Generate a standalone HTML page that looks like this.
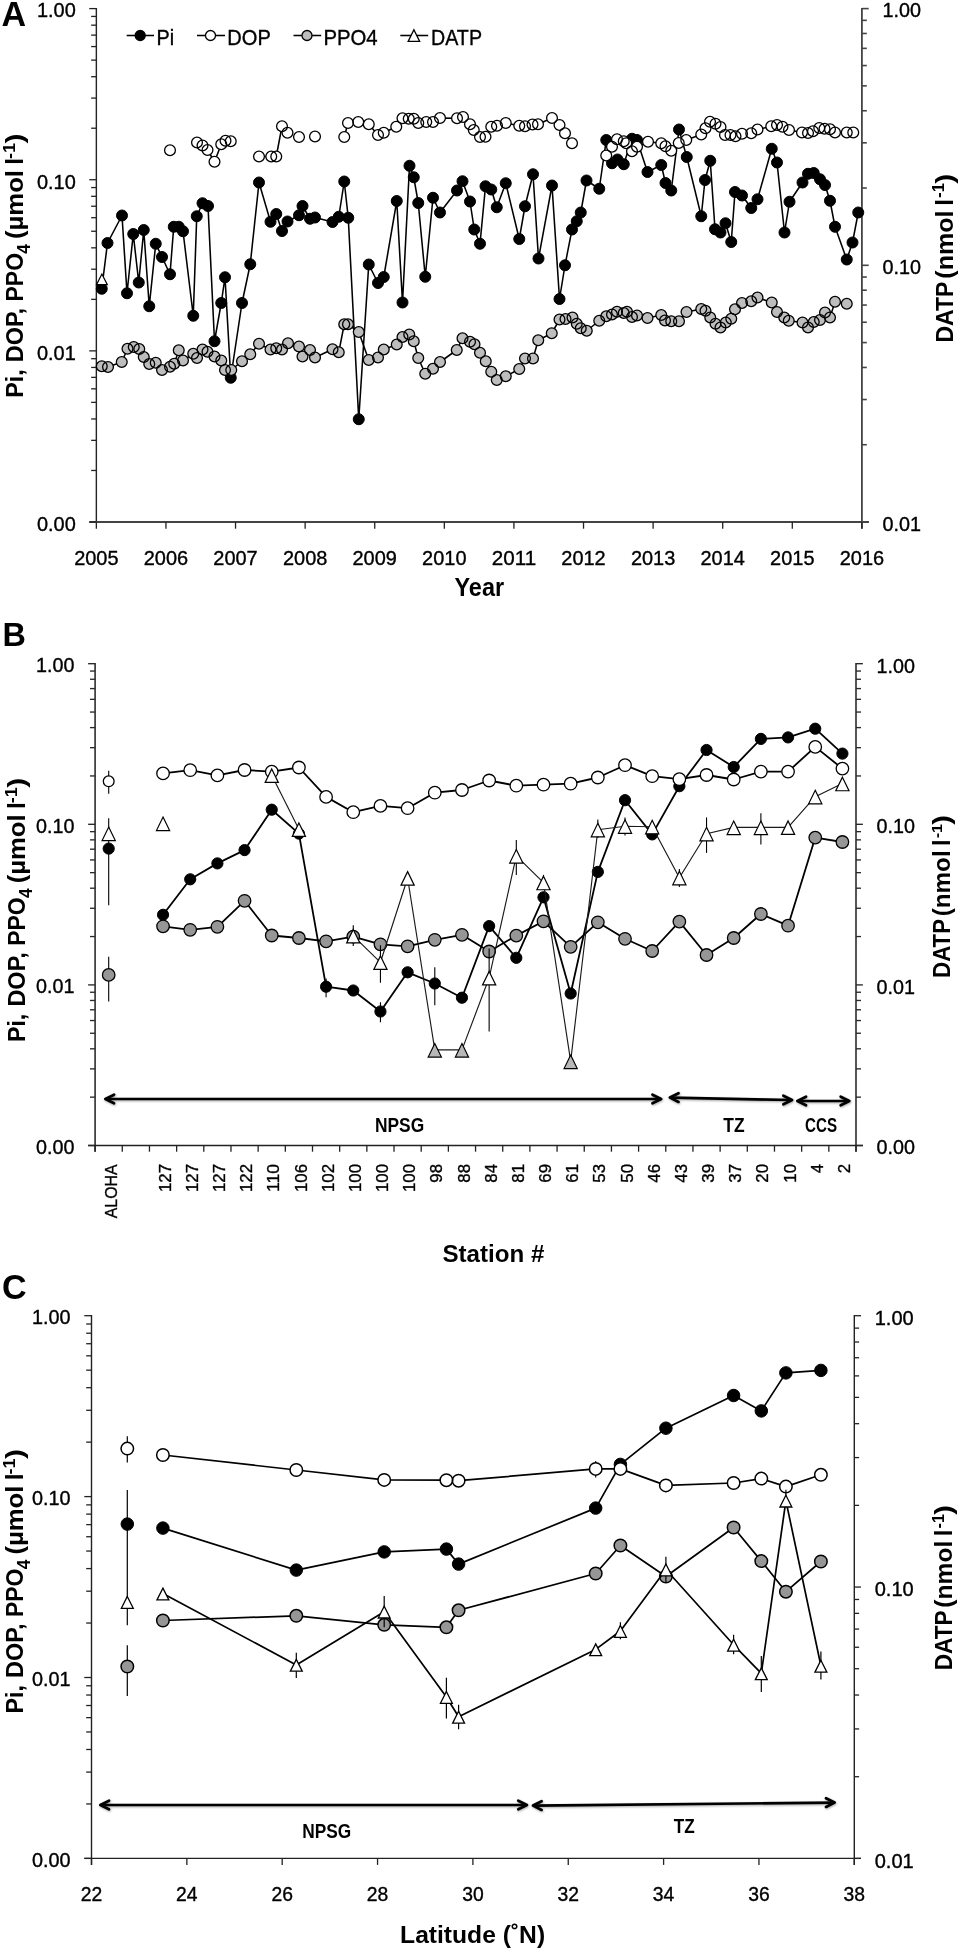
<!DOCTYPE html>
<html><head><meta charset="utf-8"><title>Figure</title>
<style>
html,body{margin:0;padding:0;background:#fff;}
svg{display:block;will-change:transform;font-family:"Liberation Sans",sans-serif;fill:#000;}
</style></head><body>
<svg width="961" height="1951" viewBox="0 0 961 1951">
<defs><filter id="sh" x="-5%" y="-200%" width="110%" height="500%"><feDropShadow dx="0.6" dy="1" stdDeviation="0.9" flood-color="#000" flood-opacity="0.35"/></filter></defs>
<rect width="961" height="1951" fill="#fff"/>
<line x1="96.35" y1="8.00" x2="96.35" y2="522.50" stroke="#222" stroke-width="1.4" />
<line x1="861.90" y1="8.00" x2="861.90" y2="528.70" stroke="#444" stroke-width="1.8" />
<line x1="89.25" y1="522.00" x2="868.90" y2="522.00" stroke="#444" stroke-width="1.8" />
<line x1="96.35" y1="179.73" x2="89.25" y2="179.73" stroke="#222" stroke-width="1.3" />
<line x1="96.35" y1="128.22" x2="91.15" y2="128.22" stroke="#222" stroke-width="1.3" />
<line x1="96.35" y1="98.08" x2="91.15" y2="98.08" stroke="#222" stroke-width="1.3" />
<line x1="96.35" y1="76.70" x2="91.15" y2="76.70" stroke="#222" stroke-width="1.3" />
<line x1="96.35" y1="60.12" x2="91.15" y2="60.12" stroke="#222" stroke-width="1.3" />
<line x1="96.35" y1="46.57" x2="91.15" y2="46.57" stroke="#222" stroke-width="1.3" />
<line x1="96.35" y1="35.11" x2="91.15" y2="35.11" stroke="#222" stroke-width="1.3" />
<line x1="96.35" y1="25.18" x2="91.15" y2="25.18" stroke="#222" stroke-width="1.3" />
<line x1="96.35" y1="16.43" x2="91.15" y2="16.43" stroke="#222" stroke-width="1.3" />
<line x1="96.35" y1="350.87" x2="89.25" y2="350.87" stroke="#222" stroke-width="1.3" />
<line x1="96.35" y1="299.35" x2="91.15" y2="299.35" stroke="#222" stroke-width="1.3" />
<line x1="96.35" y1="269.22" x2="91.15" y2="269.22" stroke="#222" stroke-width="1.3" />
<line x1="96.35" y1="247.83" x2="91.15" y2="247.83" stroke="#222" stroke-width="1.3" />
<line x1="96.35" y1="231.25" x2="91.15" y2="231.25" stroke="#222" stroke-width="1.3" />
<line x1="96.35" y1="217.70" x2="91.15" y2="217.70" stroke="#222" stroke-width="1.3" />
<line x1="96.35" y1="206.24" x2="91.15" y2="206.24" stroke="#222" stroke-width="1.3" />
<line x1="96.35" y1="196.32" x2="91.15" y2="196.32" stroke="#222" stroke-width="1.3" />
<line x1="96.35" y1="187.56" x2="91.15" y2="187.56" stroke="#222" stroke-width="1.3" />
<line x1="96.35" y1="522.00" x2="89.25" y2="522.00" stroke="#222" stroke-width="1.3" />
<line x1="96.35" y1="470.48" x2="91.15" y2="470.48" stroke="#222" stroke-width="1.3" />
<line x1="96.35" y1="440.35" x2="91.15" y2="440.35" stroke="#222" stroke-width="1.3" />
<line x1="96.35" y1="418.97" x2="91.15" y2="418.97" stroke="#222" stroke-width="1.3" />
<line x1="96.35" y1="402.38" x2="91.15" y2="402.38" stroke="#222" stroke-width="1.3" />
<line x1="96.35" y1="388.83" x2="91.15" y2="388.83" stroke="#222" stroke-width="1.3" />
<line x1="96.35" y1="377.38" x2="91.15" y2="377.38" stroke="#222" stroke-width="1.3" />
<line x1="96.35" y1="367.45" x2="91.15" y2="367.45" stroke="#222" stroke-width="1.3" />
<line x1="96.35" y1="358.70" x2="91.15" y2="358.70" stroke="#222" stroke-width="1.3" />
<line x1="96.35" y1="8.60" x2="89.25" y2="8.60" stroke="#222" stroke-width="1.3" />
<line x1="861.90" y1="265.30" x2="868.70" y2="265.30" stroke="#444" stroke-width="1.6" />
<line x1="861.90" y1="188.03" x2="866.80" y2="188.03" stroke="#444" stroke-width="1.6" />
<line x1="861.90" y1="142.82" x2="866.80" y2="142.82" stroke="#444" stroke-width="1.6" />
<line x1="861.90" y1="110.75" x2="866.80" y2="110.75" stroke="#444" stroke-width="1.6" />
<line x1="861.90" y1="85.87" x2="866.80" y2="85.87" stroke="#444" stroke-width="1.6" />
<line x1="861.90" y1="65.55" x2="866.80" y2="65.55" stroke="#444" stroke-width="1.6" />
<line x1="861.90" y1="48.36" x2="866.80" y2="48.36" stroke="#444" stroke-width="1.6" />
<line x1="861.90" y1="33.48" x2="866.80" y2="33.48" stroke="#444" stroke-width="1.6" />
<line x1="861.90" y1="20.35" x2="866.80" y2="20.35" stroke="#444" stroke-width="1.6" />
<line x1="861.90" y1="522.00" x2="868.70" y2="522.00" stroke="#444" stroke-width="1.6" />
<line x1="861.90" y1="444.73" x2="866.80" y2="444.73" stroke="#444" stroke-width="1.6" />
<line x1="861.90" y1="399.52" x2="866.80" y2="399.52" stroke="#444" stroke-width="1.6" />
<line x1="861.90" y1="367.45" x2="866.80" y2="367.45" stroke="#444" stroke-width="1.6" />
<line x1="861.90" y1="342.57" x2="866.80" y2="342.57" stroke="#444" stroke-width="1.6" />
<line x1="861.90" y1="322.25" x2="866.80" y2="322.25" stroke="#444" stroke-width="1.6" />
<line x1="861.90" y1="305.06" x2="866.80" y2="305.06" stroke="#444" stroke-width="1.6" />
<line x1="861.90" y1="290.18" x2="866.80" y2="290.18" stroke="#444" stroke-width="1.6" />
<line x1="861.90" y1="277.05" x2="866.80" y2="277.05" stroke="#444" stroke-width="1.6" />
<line x1="861.90" y1="8.60" x2="868.70" y2="8.60" stroke="#444" stroke-width="1.6" />
<line x1="96.35" y1="522.00" x2="96.35" y2="528.70" stroke="#222" stroke-width="1.3" />
<text x="96.35" y="565.30" font-size="19.6" stroke="#000" stroke-width="0.35" textLength="44.4" lengthAdjust="spacingAndGlyphs" text-anchor="middle" >2005</text>
<line x1="165.95" y1="522.00" x2="165.95" y2="528.70" stroke="#222" stroke-width="1.3" />
<text x="165.95" y="565.30" font-size="19.6" stroke="#000" stroke-width="0.35" textLength="44.4" lengthAdjust="spacingAndGlyphs" text-anchor="middle" >2006</text>
<line x1="235.54" y1="522.00" x2="235.54" y2="528.70" stroke="#222" stroke-width="1.3" />
<text x="235.54" y="565.30" font-size="19.6" stroke="#000" stroke-width="0.35" textLength="44.4" lengthAdjust="spacingAndGlyphs" text-anchor="middle" >2007</text>
<line x1="305.14" y1="522.00" x2="305.14" y2="528.70" stroke="#222" stroke-width="1.3" />
<text x="305.14" y="565.30" font-size="19.6" stroke="#000" stroke-width="0.35" textLength="44.4" lengthAdjust="spacingAndGlyphs" text-anchor="middle" >2008</text>
<line x1="374.73" y1="522.00" x2="374.73" y2="528.70" stroke="#222" stroke-width="1.3" />
<text x="374.73" y="565.30" font-size="19.6" stroke="#000" stroke-width="0.35" textLength="44.4" lengthAdjust="spacingAndGlyphs" text-anchor="middle" >2009</text>
<line x1="444.33" y1="522.00" x2="444.33" y2="528.70" stroke="#222" stroke-width="1.3" />
<text x="444.33" y="565.30" font-size="19.6" stroke="#000" stroke-width="0.35" textLength="44.4" lengthAdjust="spacingAndGlyphs" text-anchor="middle" >2010</text>
<line x1="513.92" y1="522.00" x2="513.92" y2="528.70" stroke="#222" stroke-width="1.3" />
<text x="513.92" y="565.30" font-size="19.6" stroke="#000" stroke-width="0.35" textLength="44.4" lengthAdjust="spacingAndGlyphs" text-anchor="middle" >2011</text>
<line x1="583.52" y1="522.00" x2="583.52" y2="528.70" stroke="#222" stroke-width="1.3" />
<text x="583.52" y="565.30" font-size="19.6" stroke="#000" stroke-width="0.35" textLength="44.4" lengthAdjust="spacingAndGlyphs" text-anchor="middle" >2012</text>
<line x1="653.11" y1="522.00" x2="653.11" y2="528.70" stroke="#222" stroke-width="1.3" />
<text x="653.11" y="565.30" font-size="19.6" stroke="#000" stroke-width="0.35" textLength="44.4" lengthAdjust="spacingAndGlyphs" text-anchor="middle" >2013</text>
<line x1="722.71" y1="522.00" x2="722.71" y2="528.70" stroke="#222" stroke-width="1.3" />
<text x="722.71" y="565.30" font-size="19.6" stroke="#000" stroke-width="0.35" textLength="44.4" lengthAdjust="spacingAndGlyphs" text-anchor="middle" >2014</text>
<line x1="792.30" y1="522.00" x2="792.30" y2="528.70" stroke="#222" stroke-width="1.3" />
<text x="792.30" y="565.30" font-size="19.6" stroke="#000" stroke-width="0.35" textLength="44.4" lengthAdjust="spacingAndGlyphs" text-anchor="middle" >2015</text>
<line x1="861.90" y1="522.00" x2="861.90" y2="528.70" stroke="#222" stroke-width="1.3" />
<text x="861.90" y="565.30" font-size="19.6" stroke="#000" stroke-width="0.35" textLength="44.4" lengthAdjust="spacingAndGlyphs" text-anchor="middle" >2016</text>
<text x="1.50" y="25.80" font-size="34.2" font-weight="bold" textLength="24.6" lengthAdjust="spacingAndGlyphs" text-anchor="start" >A</text>
<text x="37.00" y="17.40" font-size="19.4" stroke="#000" stroke-width="0.35" textLength="38.8" lengthAdjust="spacingAndGlyphs" text-anchor="start" >1.00</text>
<text x="37.00" y="188.53" font-size="19.4" stroke="#000" stroke-width="0.35" textLength="38.8" lengthAdjust="spacingAndGlyphs" text-anchor="start" >0.10</text>
<text x="37.00" y="359.67" font-size="19.4" stroke="#000" stroke-width="0.35" textLength="38.8" lengthAdjust="spacingAndGlyphs" text-anchor="start" >0.01</text>
<text x="37.00" y="530.80" font-size="19.4" stroke="#000" stroke-width="0.35" textLength="38.8" lengthAdjust="spacingAndGlyphs" text-anchor="start" >0.00</text>
<text x="882.60" y="17.10" font-size="19.4" stroke="#000" stroke-width="0.35" textLength="38.5" lengthAdjust="spacingAndGlyphs" text-anchor="start" >1.00</text>
<text x="882.60" y="273.80" font-size="19.4" stroke="#000" stroke-width="0.35" textLength="38.5" lengthAdjust="spacingAndGlyphs" text-anchor="start" >0.10</text>
<text x="882.60" y="530.50" font-size="19.4" stroke="#000" stroke-width="0.35" textLength="38.5" lengthAdjust="spacingAndGlyphs" text-anchor="start" >0.01</text>
<text x="479.30" y="596.10" font-size="25.5" font-weight="bold" textLength="49.6" lengthAdjust="spacingAndGlyphs" text-anchor="middle" >Year</text>
<text font-size="24.5" font-weight="bold" textLength="28.4" lengthAdjust="spacingAndGlyphs" transform="translate(23.00,397.80) rotate(-90)" text-anchor="start" >Pi,</text>
<text font-size="24.5" font-weight="bold" textLength="54.4" lengthAdjust="spacingAndGlyphs" transform="translate(23.00,362.30) rotate(-90)" text-anchor="start" >DOP,</text>
<text font-size="24.5" font-weight="bold" textLength="48.5" lengthAdjust="spacingAndGlyphs" transform="translate(23.00,301.50) rotate(-90)" text-anchor="start" >PPO</text>
<text font-size="17.64" font-weight="bold" textLength="9.6" lengthAdjust="spacingAndGlyphs" transform="translate(29.50,253.70) rotate(-90)" text-anchor="start" >4</text>
<text font-size="24.5" font-weight="bold" textLength="69.0" lengthAdjust="spacingAndGlyphs" transform="translate(23.00,239.00) rotate(-90)" text-anchor="start" >(µmol</text>
<text font-size="24.5" font-weight="bold" transform="translate(23.00,164.70) rotate(-90)" text-anchor="start" >l</text>
<text font-size="16.17" font-weight="bold" textLength="16.0" lengthAdjust="spacingAndGlyphs" transform="translate(14.80,159.00) rotate(-90)" text-anchor="start" >-1</text>
<text font-size="24.5" font-weight="bold" textLength="10.0" lengthAdjust="spacingAndGlyphs" transform="translate(23.00,143.40) rotate(-90)" text-anchor="start" >)</text>
<text font-size="24.3" font-weight="bold" textLength="61.1" lengthAdjust="spacingAndGlyphs" transform="translate(952.50,342.60) rotate(-90)" text-anchor="start" >DATP</text>
<text font-size="24.3" font-weight="bold" textLength="68.3" lengthAdjust="spacingAndGlyphs" transform="translate(952.50,278.70) rotate(-90)" text-anchor="start" >(nmol</text>
<text font-size="24.3" font-weight="bold" transform="translate(952.50,205.80) rotate(-90)" text-anchor="start" >l</text>
<text font-size="16.04" font-weight="bold" textLength="14.8" lengthAdjust="spacingAndGlyphs" transform="translate(944.30,197.90) rotate(-90)" text-anchor="start" >-1</text>
<text font-size="24.3" font-weight="bold" textLength="10.0" lengthAdjust="spacingAndGlyphs" transform="translate(952.50,183.80) rotate(-90)" text-anchor="start" >)</text>
<line x1="126.70" y1="35.50" x2="154.00" y2="35.50" stroke="#000" stroke-width="1.55" />
<circle cx="140.2" cy="35.5" r="5.0" fill="#000" stroke="#000" stroke-width="1.3"/>
<line x1="197.00" y1="35.50" x2="225.00" y2="35.50" stroke="#000" stroke-width="1.55" />
<circle cx="210.5" cy="35.5" r="5.0" fill="#fff" stroke="#000" stroke-width="1.3"/>
<line x1="293.50" y1="35.50" x2="321.20" y2="35.50" stroke="#000" stroke-width="1.55" />
<circle cx="307" cy="35.5" r="5.0" fill="#bdbdbd" stroke="#000" stroke-width="1.3"/>
<line x1="400.30" y1="35.50" x2="428.20" y2="35.50" stroke="#000" stroke-width="1.55" />
<polygon points="413.90,29.81 419.65,41.41 408.15,41.41" fill="#fff" stroke="#000" stroke-width="1.3" stroke-linejoin="miter"/>
<text x="156.50" y="44.80" font-size="21.2" stroke="#000" stroke-width="0.35" textLength="17.6" lengthAdjust="spacingAndGlyphs" text-anchor="start" >Pi</text>
<text x="227.30" y="44.80" font-size="21.2" stroke="#000" stroke-width="0.35" textLength="43.5" lengthAdjust="spacingAndGlyphs" text-anchor="start" >DOP</text>
<text x="323.40" y="44.80" font-size="21.2" stroke="#000" stroke-width="0.35" textLength="54.2" lengthAdjust="spacingAndGlyphs" text-anchor="start" >PPO4</text>
<text x="431.00" y="44.80" font-size="21.2" stroke="#000" stroke-width="0.35" textLength="51.0" lengthAdjust="spacingAndGlyphs" text-anchor="start" >DATP</text>
<polyline points="101.75,288.75 107.50,243.00 122.00,215.50 127.00,293.25 133.25,234.00 138.75,282.50 143.75,230.00 149.25,306.25 155.75,243.75 162.00,257.00 170.00,274.25 173.75,226.75 178.75,226.75 183.00,231.25 193.25,315.75 196.75,216.25 202.50,203.25 208.00,206.00 214.50,341.25 221.25,303.00 225.00,277.25 230.75,377.75 242.00,303.00 250.25,264.25 259.00,182.50 270.50,221.75 276.25,214.00 282.00,231.00 287.50,221.50 299.00,215.25 302.50,206.00 310.00,218.75 315.00,217.50 332.50,222.00 338.75,216.75 344.25,181.50 348.25,217.75 358.75,419.25 368.75,264.50 378.00,283.00 383.75,277.00 396.75,201.00 402.50,302.50 409.50,165.75 413.75,177.25 418.25,203.00 425.25,276.75 433.00,197.75 440.00,212.50 457.00,190.50 462.50,181.25 470.00,201.50 474.25,229.50 480.00,243.75 485.50,186.25 491.25,189.50 496.75,207.25 505.75,183.25 519.25,239.00 525.00,206.25 533.00,174.25 538.50,258.50 552.00,185.50 559.50,299.00 565.00,265.25 572.00,229.50 576.75,221.25 580.75,212.50 586.50,180.50 599.25,188.75 606.25,140.00 612.00,163.25 617.50,159.50 623.75,164.25 632.00,138.75 637.00,140.00 647.50,172.00 661.25,165.00 665.50,183.00 671.25,190.50 679.00,129.50 686.75,157.00 701.25,216.25 705.00,180.00 710.25,160.75 715.00,229.25 720.50,232.50 725.50,223.25 731.25,242.00 735.00,192.00 742.00,195.50 751.25,208.00 757.50,199.25 771.75,148.75 777.00,162.50 784.50,232.50 789.50,201.75 802.50,182.50 808.00,173.75 813.75,173.00 820.00,179.25 825.00,185.00 830.00,200.75 835.00,226.75 846.75,259.50 852.50,242.50 858.25,212.50" fill="none" stroke="#000" stroke-width="1.55" stroke-linejoin="round"/>
<circle cx="101.75" cy="288.75" r="5.5" fill="#000"/>
<circle cx="107.50" cy="243.00" r="5.5" fill="#000"/>
<circle cx="122.00" cy="215.50" r="5.5" fill="#000"/>
<circle cx="127.00" cy="293.25" r="5.5" fill="#000"/>
<circle cx="133.25" cy="234.00" r="5.5" fill="#000"/>
<circle cx="138.75" cy="282.50" r="5.5" fill="#000"/>
<circle cx="143.75" cy="230.00" r="5.5" fill="#000"/>
<circle cx="149.25" cy="306.25" r="5.5" fill="#000"/>
<circle cx="155.75" cy="243.75" r="5.5" fill="#000"/>
<circle cx="162.00" cy="257.00" r="5.5" fill="#000"/>
<circle cx="170.00" cy="274.25" r="5.5" fill="#000"/>
<circle cx="173.75" cy="226.75" r="5.5" fill="#000"/>
<circle cx="178.75" cy="226.75" r="5.5" fill="#000"/>
<circle cx="183.00" cy="231.25" r="5.5" fill="#000"/>
<circle cx="193.25" cy="315.75" r="5.5" fill="#000"/>
<circle cx="196.75" cy="216.25" r="5.5" fill="#000"/>
<circle cx="202.50" cy="203.25" r="5.5" fill="#000"/>
<circle cx="208.00" cy="206.00" r="5.5" fill="#000"/>
<circle cx="214.50" cy="341.25" r="5.5" fill="#000"/>
<circle cx="221.25" cy="303.00" r="5.5" fill="#000"/>
<circle cx="225.00" cy="277.25" r="5.5" fill="#000"/>
<circle cx="230.75" cy="377.75" r="5.5" fill="#000"/>
<circle cx="242.00" cy="303.00" r="5.5" fill="#000"/>
<circle cx="250.25" cy="264.25" r="5.5" fill="#000"/>
<circle cx="259.00" cy="182.50" r="5.5" fill="#000"/>
<circle cx="270.50" cy="221.75" r="5.5" fill="#000"/>
<circle cx="276.25" cy="214.00" r="5.5" fill="#000"/>
<circle cx="282.00" cy="231.00" r="5.5" fill="#000"/>
<circle cx="287.50" cy="221.50" r="5.5" fill="#000"/>
<circle cx="299.00" cy="215.25" r="5.5" fill="#000"/>
<circle cx="302.50" cy="206.00" r="5.5" fill="#000"/>
<circle cx="310.00" cy="218.75" r="5.5" fill="#000"/>
<circle cx="315.00" cy="217.50" r="5.5" fill="#000"/>
<circle cx="332.50" cy="222.00" r="5.5" fill="#000"/>
<circle cx="338.75" cy="216.75" r="5.5" fill="#000"/>
<circle cx="344.25" cy="181.50" r="5.5" fill="#000"/>
<circle cx="348.25" cy="217.75" r="5.5" fill="#000"/>
<circle cx="358.75" cy="419.25" r="5.5" fill="#000"/>
<circle cx="368.75" cy="264.50" r="5.5" fill="#000"/>
<circle cx="378.00" cy="283.00" r="5.5" fill="#000"/>
<circle cx="383.75" cy="277.00" r="5.5" fill="#000"/>
<circle cx="396.75" cy="201.00" r="5.5" fill="#000"/>
<circle cx="402.50" cy="302.50" r="5.5" fill="#000"/>
<circle cx="409.50" cy="165.75" r="5.5" fill="#000"/>
<circle cx="413.75" cy="177.25" r="5.5" fill="#000"/>
<circle cx="418.25" cy="203.00" r="5.5" fill="#000"/>
<circle cx="425.25" cy="276.75" r="5.5" fill="#000"/>
<circle cx="433.00" cy="197.75" r="5.5" fill="#000"/>
<circle cx="440.00" cy="212.50" r="5.5" fill="#000"/>
<circle cx="457.00" cy="190.50" r="5.5" fill="#000"/>
<circle cx="462.50" cy="181.25" r="5.5" fill="#000"/>
<circle cx="470.00" cy="201.50" r="5.5" fill="#000"/>
<circle cx="474.25" cy="229.50" r="5.5" fill="#000"/>
<circle cx="480.00" cy="243.75" r="5.5" fill="#000"/>
<circle cx="485.50" cy="186.25" r="5.5" fill="#000"/>
<circle cx="491.25" cy="189.50" r="5.5" fill="#000"/>
<circle cx="496.75" cy="207.25" r="5.5" fill="#000"/>
<circle cx="505.75" cy="183.25" r="5.5" fill="#000"/>
<circle cx="519.25" cy="239.00" r="5.5" fill="#000"/>
<circle cx="525.00" cy="206.25" r="5.5" fill="#000"/>
<circle cx="533.00" cy="174.25" r="5.5" fill="#000"/>
<circle cx="538.50" cy="258.50" r="5.5" fill="#000"/>
<circle cx="552.00" cy="185.50" r="5.5" fill="#000"/>
<circle cx="559.50" cy="299.00" r="5.5" fill="#000"/>
<circle cx="565.00" cy="265.25" r="5.5" fill="#000"/>
<circle cx="572.00" cy="229.50" r="5.5" fill="#000"/>
<circle cx="576.75" cy="221.25" r="5.5" fill="#000"/>
<circle cx="580.75" cy="212.50" r="5.5" fill="#000"/>
<circle cx="586.50" cy="180.50" r="5.5" fill="#000"/>
<circle cx="599.25" cy="188.75" r="5.5" fill="#000"/>
<circle cx="606.25" cy="140.00" r="5.5" fill="#000"/>
<circle cx="612.00" cy="163.25" r="5.5" fill="#000"/>
<circle cx="617.50" cy="159.50" r="5.5" fill="#000"/>
<circle cx="623.75" cy="164.25" r="5.5" fill="#000"/>
<circle cx="632.00" cy="138.75" r="5.5" fill="#000"/>
<circle cx="637.00" cy="140.00" r="5.5" fill="#000"/>
<circle cx="647.50" cy="172.00" r="5.5" fill="#000"/>
<circle cx="661.25" cy="165.00" r="5.5" fill="#000"/>
<circle cx="665.50" cy="183.00" r="5.5" fill="#000"/>
<circle cx="671.25" cy="190.50" r="5.5" fill="#000"/>
<circle cx="679.00" cy="129.50" r="5.5" fill="#000"/>
<circle cx="686.75" cy="157.00" r="5.5" fill="#000"/>
<circle cx="701.25" cy="216.25" r="5.5" fill="#000"/>
<circle cx="705.00" cy="180.00" r="5.5" fill="#000"/>
<circle cx="710.25" cy="160.75" r="5.5" fill="#000"/>
<circle cx="715.00" cy="229.25" r="5.5" fill="#000"/>
<circle cx="720.50" cy="232.50" r="5.5" fill="#000"/>
<circle cx="725.50" cy="223.25" r="5.5" fill="#000"/>
<circle cx="731.25" cy="242.00" r="5.5" fill="#000"/>
<circle cx="735.00" cy="192.00" r="5.5" fill="#000"/>
<circle cx="742.00" cy="195.50" r="5.5" fill="#000"/>
<circle cx="751.25" cy="208.00" r="5.5" fill="#000"/>
<circle cx="757.50" cy="199.25" r="5.5" fill="#000"/>
<circle cx="771.75" cy="148.75" r="5.5" fill="#000"/>
<circle cx="777.00" cy="162.50" r="5.5" fill="#000"/>
<circle cx="784.50" cy="232.50" r="5.5" fill="#000"/>
<circle cx="789.50" cy="201.75" r="5.5" fill="#000"/>
<circle cx="802.50" cy="182.50" r="5.5" fill="#000"/>
<circle cx="808.00" cy="173.75" r="5.5" fill="#000"/>
<circle cx="813.75" cy="173.00" r="5.5" fill="#000"/>
<circle cx="820.00" cy="179.25" r="5.5" fill="#000"/>
<circle cx="825.00" cy="185.00" r="5.5" fill="#000"/>
<circle cx="830.00" cy="200.75" r="5.5" fill="#000"/>
<circle cx="835.00" cy="226.75" r="5.5" fill="#000"/>
<circle cx="846.75" cy="259.50" r="5.5" fill="#000"/>
<circle cx="852.50" cy="242.50" r="5.5" fill="#000"/>
<circle cx="858.25" cy="212.50" r="5.5" fill="#000"/>
<circle cx="101.75" cy="288.75" r="5.5" fill="none" stroke="#000" stroke-width="1.0"/>
<circle cx="107.50" cy="243.00" r="5.5" fill="none" stroke="#000" stroke-width="1.0"/>
<circle cx="122.00" cy="215.50" r="5.5" fill="none" stroke="#000" stroke-width="1.0"/>
<circle cx="127.00" cy="293.25" r="5.5" fill="none" stroke="#000" stroke-width="1.0"/>
<circle cx="133.25" cy="234.00" r="5.5" fill="none" stroke="#000" stroke-width="1.0"/>
<circle cx="138.75" cy="282.50" r="5.5" fill="none" stroke="#000" stroke-width="1.0"/>
<circle cx="143.75" cy="230.00" r="5.5" fill="none" stroke="#000" stroke-width="1.0"/>
<circle cx="149.25" cy="306.25" r="5.5" fill="none" stroke="#000" stroke-width="1.0"/>
<circle cx="155.75" cy="243.75" r="5.5" fill="none" stroke="#000" stroke-width="1.0"/>
<circle cx="162.00" cy="257.00" r="5.5" fill="none" stroke="#000" stroke-width="1.0"/>
<circle cx="170.00" cy="274.25" r="5.5" fill="none" stroke="#000" stroke-width="1.0"/>
<circle cx="173.75" cy="226.75" r="5.5" fill="none" stroke="#000" stroke-width="1.0"/>
<circle cx="178.75" cy="226.75" r="5.5" fill="none" stroke="#000" stroke-width="1.0"/>
<circle cx="183.00" cy="231.25" r="5.5" fill="none" stroke="#000" stroke-width="1.0"/>
<circle cx="193.25" cy="315.75" r="5.5" fill="none" stroke="#000" stroke-width="1.0"/>
<circle cx="196.75" cy="216.25" r="5.5" fill="none" stroke="#000" stroke-width="1.0"/>
<circle cx="202.50" cy="203.25" r="5.5" fill="none" stroke="#000" stroke-width="1.0"/>
<circle cx="208.00" cy="206.00" r="5.5" fill="none" stroke="#000" stroke-width="1.0"/>
<circle cx="214.50" cy="341.25" r="5.5" fill="none" stroke="#000" stroke-width="1.0"/>
<circle cx="221.25" cy="303.00" r="5.5" fill="none" stroke="#000" stroke-width="1.0"/>
<circle cx="225.00" cy="277.25" r="5.5" fill="none" stroke="#000" stroke-width="1.0"/>
<circle cx="230.75" cy="377.75" r="5.5" fill="none" stroke="#000" stroke-width="1.0"/>
<circle cx="242.00" cy="303.00" r="5.5" fill="none" stroke="#000" stroke-width="1.0"/>
<circle cx="250.25" cy="264.25" r="5.5" fill="none" stroke="#000" stroke-width="1.0"/>
<circle cx="259.00" cy="182.50" r="5.5" fill="none" stroke="#000" stroke-width="1.0"/>
<circle cx="270.50" cy="221.75" r="5.5" fill="none" stroke="#000" stroke-width="1.0"/>
<circle cx="276.25" cy="214.00" r="5.5" fill="none" stroke="#000" stroke-width="1.0"/>
<circle cx="282.00" cy="231.00" r="5.5" fill="none" stroke="#000" stroke-width="1.0"/>
<circle cx="287.50" cy="221.50" r="5.5" fill="none" stroke="#000" stroke-width="1.0"/>
<circle cx="299.00" cy="215.25" r="5.5" fill="none" stroke="#000" stroke-width="1.0"/>
<circle cx="302.50" cy="206.00" r="5.5" fill="none" stroke="#000" stroke-width="1.0"/>
<circle cx="310.00" cy="218.75" r="5.5" fill="none" stroke="#000" stroke-width="1.0"/>
<circle cx="315.00" cy="217.50" r="5.5" fill="none" stroke="#000" stroke-width="1.0"/>
<circle cx="332.50" cy="222.00" r="5.5" fill="none" stroke="#000" stroke-width="1.0"/>
<circle cx="338.75" cy="216.75" r="5.5" fill="none" stroke="#000" stroke-width="1.0"/>
<circle cx="344.25" cy="181.50" r="5.5" fill="none" stroke="#000" stroke-width="1.0"/>
<circle cx="348.25" cy="217.75" r="5.5" fill="none" stroke="#000" stroke-width="1.0"/>
<circle cx="358.75" cy="419.25" r="5.5" fill="none" stroke="#000" stroke-width="1.0"/>
<circle cx="368.75" cy="264.50" r="5.5" fill="none" stroke="#000" stroke-width="1.0"/>
<circle cx="378.00" cy="283.00" r="5.5" fill="none" stroke="#000" stroke-width="1.0"/>
<circle cx="383.75" cy="277.00" r="5.5" fill="none" stroke="#000" stroke-width="1.0"/>
<circle cx="396.75" cy="201.00" r="5.5" fill="none" stroke="#000" stroke-width="1.0"/>
<circle cx="402.50" cy="302.50" r="5.5" fill="none" stroke="#000" stroke-width="1.0"/>
<circle cx="409.50" cy="165.75" r="5.5" fill="none" stroke="#000" stroke-width="1.0"/>
<circle cx="413.75" cy="177.25" r="5.5" fill="none" stroke="#000" stroke-width="1.0"/>
<circle cx="418.25" cy="203.00" r="5.5" fill="none" stroke="#000" stroke-width="1.0"/>
<circle cx="425.25" cy="276.75" r="5.5" fill="none" stroke="#000" stroke-width="1.0"/>
<circle cx="433.00" cy="197.75" r="5.5" fill="none" stroke="#000" stroke-width="1.0"/>
<circle cx="440.00" cy="212.50" r="5.5" fill="none" stroke="#000" stroke-width="1.0"/>
<circle cx="457.00" cy="190.50" r="5.5" fill="none" stroke="#000" stroke-width="1.0"/>
<circle cx="462.50" cy="181.25" r="5.5" fill="none" stroke="#000" stroke-width="1.0"/>
<circle cx="470.00" cy="201.50" r="5.5" fill="none" stroke="#000" stroke-width="1.0"/>
<circle cx="474.25" cy="229.50" r="5.5" fill="none" stroke="#000" stroke-width="1.0"/>
<circle cx="480.00" cy="243.75" r="5.5" fill="none" stroke="#000" stroke-width="1.0"/>
<circle cx="485.50" cy="186.25" r="5.5" fill="none" stroke="#000" stroke-width="1.0"/>
<circle cx="491.25" cy="189.50" r="5.5" fill="none" stroke="#000" stroke-width="1.0"/>
<circle cx="496.75" cy="207.25" r="5.5" fill="none" stroke="#000" stroke-width="1.0"/>
<circle cx="505.75" cy="183.25" r="5.5" fill="none" stroke="#000" stroke-width="1.0"/>
<circle cx="519.25" cy="239.00" r="5.5" fill="none" stroke="#000" stroke-width="1.0"/>
<circle cx="525.00" cy="206.25" r="5.5" fill="none" stroke="#000" stroke-width="1.0"/>
<circle cx="533.00" cy="174.25" r="5.5" fill="none" stroke="#000" stroke-width="1.0"/>
<circle cx="538.50" cy="258.50" r="5.5" fill="none" stroke="#000" stroke-width="1.0"/>
<circle cx="552.00" cy="185.50" r="5.5" fill="none" stroke="#000" stroke-width="1.0"/>
<circle cx="559.50" cy="299.00" r="5.5" fill="none" stroke="#000" stroke-width="1.0"/>
<circle cx="565.00" cy="265.25" r="5.5" fill="none" stroke="#000" stroke-width="1.0"/>
<circle cx="572.00" cy="229.50" r="5.5" fill="none" stroke="#000" stroke-width="1.0"/>
<circle cx="576.75" cy="221.25" r="5.5" fill="none" stroke="#000" stroke-width="1.0"/>
<circle cx="580.75" cy="212.50" r="5.5" fill="none" stroke="#000" stroke-width="1.0"/>
<circle cx="586.50" cy="180.50" r="5.5" fill="none" stroke="#000" stroke-width="1.0"/>
<circle cx="599.25" cy="188.75" r="5.5" fill="none" stroke="#000" stroke-width="1.0"/>
<circle cx="606.25" cy="140.00" r="5.5" fill="none" stroke="#000" stroke-width="1.0"/>
<circle cx="612.00" cy="163.25" r="5.5" fill="none" stroke="#000" stroke-width="1.0"/>
<circle cx="617.50" cy="159.50" r="5.5" fill="none" stroke="#000" stroke-width="1.0"/>
<circle cx="623.75" cy="164.25" r="5.5" fill="none" stroke="#000" stroke-width="1.0"/>
<circle cx="632.00" cy="138.75" r="5.5" fill="none" stroke="#000" stroke-width="1.0"/>
<circle cx="637.00" cy="140.00" r="5.5" fill="none" stroke="#000" stroke-width="1.0"/>
<circle cx="647.50" cy="172.00" r="5.5" fill="none" stroke="#000" stroke-width="1.0"/>
<circle cx="661.25" cy="165.00" r="5.5" fill="none" stroke="#000" stroke-width="1.0"/>
<circle cx="665.50" cy="183.00" r="5.5" fill="none" stroke="#000" stroke-width="1.0"/>
<circle cx="671.25" cy="190.50" r="5.5" fill="none" stroke="#000" stroke-width="1.0"/>
<circle cx="679.00" cy="129.50" r="5.5" fill="none" stroke="#000" stroke-width="1.0"/>
<circle cx="686.75" cy="157.00" r="5.5" fill="none" stroke="#000" stroke-width="1.0"/>
<circle cx="701.25" cy="216.25" r="5.5" fill="none" stroke="#000" stroke-width="1.0"/>
<circle cx="705.00" cy="180.00" r="5.5" fill="none" stroke="#000" stroke-width="1.0"/>
<circle cx="710.25" cy="160.75" r="5.5" fill="none" stroke="#000" stroke-width="1.0"/>
<circle cx="715.00" cy="229.25" r="5.5" fill="none" stroke="#000" stroke-width="1.0"/>
<circle cx="720.50" cy="232.50" r="5.5" fill="none" stroke="#000" stroke-width="1.0"/>
<circle cx="725.50" cy="223.25" r="5.5" fill="none" stroke="#000" stroke-width="1.0"/>
<circle cx="731.25" cy="242.00" r="5.5" fill="none" stroke="#000" stroke-width="1.0"/>
<circle cx="735.00" cy="192.00" r="5.5" fill="none" stroke="#000" stroke-width="1.0"/>
<circle cx="742.00" cy="195.50" r="5.5" fill="none" stroke="#000" stroke-width="1.0"/>
<circle cx="751.25" cy="208.00" r="5.5" fill="none" stroke="#000" stroke-width="1.0"/>
<circle cx="757.50" cy="199.25" r="5.5" fill="none" stroke="#000" stroke-width="1.0"/>
<circle cx="771.75" cy="148.75" r="5.5" fill="none" stroke="#000" stroke-width="1.0"/>
<circle cx="777.00" cy="162.50" r="5.5" fill="none" stroke="#000" stroke-width="1.0"/>
<circle cx="784.50" cy="232.50" r="5.5" fill="none" stroke="#000" stroke-width="1.0"/>
<circle cx="789.50" cy="201.75" r="5.5" fill="none" stroke="#000" stroke-width="1.0"/>
<circle cx="802.50" cy="182.50" r="5.5" fill="none" stroke="#000" stroke-width="1.0"/>
<circle cx="808.00" cy="173.75" r="5.5" fill="none" stroke="#000" stroke-width="1.0"/>
<circle cx="813.75" cy="173.00" r="5.5" fill="none" stroke="#000" stroke-width="1.0"/>
<circle cx="820.00" cy="179.25" r="5.5" fill="none" stroke="#000" stroke-width="1.0"/>
<circle cx="825.00" cy="185.00" r="5.5" fill="none" stroke="#000" stroke-width="1.0"/>
<circle cx="830.00" cy="200.75" r="5.5" fill="none" stroke="#000" stroke-width="1.0"/>
<circle cx="835.00" cy="226.75" r="5.5" fill="none" stroke="#000" stroke-width="1.0"/>
<circle cx="846.75" cy="259.50" r="5.5" fill="none" stroke="#000" stroke-width="1.0"/>
<circle cx="852.50" cy="242.50" r="5.5" fill="none" stroke="#000" stroke-width="1.0"/>
<circle cx="858.25" cy="212.50" r="5.5" fill="none" stroke="#000" stroke-width="1.0"/>
<polyline points="197.00,142.50 202.50,145.50 207.50,150.00 214.50,161.75 221.25,144.25 225.50,140.75 230.75,141.25" fill="none" stroke="#000" stroke-width="1.55" stroke-linejoin="round"/>
<polyline points="259.00,156.50 271.25,156.50 276.25,156.50 282.00,126.25 287.50,132.75" fill="none" stroke="#000" stroke-width="1.55" stroke-linejoin="round"/>
<polyline points="344.25,137.00 348.00,123.00 358.25,122.00 368.75,124.25 378.00,135.00 383.75,132.75 396.25,126.75 402.50,118.25 408.75,118.75 413.75,118.75 418.25,123.00 426.25,122.00 433.00,122.00 440.00,118.00 457.00,118.25 463.00,117.00 470.00,124.25 473.75,130.00 480.00,137.00 485.50,136.75 491.25,126.75 497.00,125.75 505.75,123.00 519.25,125.75 525.00,126.25 532.50,124.50 538.00,124.25 552.00,118.00 559.50,125.00 565.00,133.25 572.00,143.25" fill="none" stroke="#000" stroke-width="1.55" stroke-linejoin="round"/>
<polyline points="606.25,155.50 612.00,146.75 617.00,139.25 623.75,141.25 626.25,143.25 632.00,151.25 637.00,146.75 648.00,141.75 661.25,143.25 665.50,146.25 671.25,150.75 678.75,143.00 686.25,140.00 701.25,134.50 705.50,128.25 710.00,121.75 715.50,123.75 720.50,127.00 725.00,135.00 730.50,135.00 735.50,136.25 742.00,133.75 751.25,133.25 757.50,129.50 771.25,126.25 777.00,125.00 782.50,126.75 789.00,130.00 802.00,132.50 808.00,133.00 813.00,131.25 819.25,128.00 824.50,128.75 830.00,129.25 835.00,132.50 846.75,132.50 853.25,132.50" fill="none" stroke="#000" stroke-width="1.55" stroke-linejoin="round"/>
<circle cx="170.00" cy="150.25" r="5.4" fill="#fff"/>
<circle cx="197.00" cy="142.50" r="5.4" fill="#fff"/>
<circle cx="202.50" cy="145.50" r="5.4" fill="#fff"/>
<circle cx="207.50" cy="150.00" r="5.4" fill="#fff"/>
<circle cx="214.50" cy="161.75" r="5.4" fill="#fff"/>
<circle cx="221.25" cy="144.25" r="5.4" fill="#fff"/>
<circle cx="225.50" cy="140.75" r="5.4" fill="#fff"/>
<circle cx="230.75" cy="141.25" r="5.4" fill="#fff"/>
<circle cx="259.00" cy="156.50" r="5.4" fill="#fff"/>
<circle cx="271.25" cy="156.50" r="5.4" fill="#fff"/>
<circle cx="276.25" cy="156.50" r="5.4" fill="#fff"/>
<circle cx="282.00" cy="126.25" r="5.4" fill="#fff"/>
<circle cx="287.50" cy="132.75" r="5.4" fill="#fff"/>
<circle cx="299.00" cy="137.00" r="5.4" fill="#fff"/>
<circle cx="315.00" cy="136.50" r="5.4" fill="#fff"/>
<circle cx="344.25" cy="137.00" r="5.4" fill="#fff"/>
<circle cx="348.00" cy="123.00" r="5.4" fill="#fff"/>
<circle cx="358.25" cy="122.00" r="5.4" fill="#fff"/>
<circle cx="368.75" cy="124.25" r="5.4" fill="#fff"/>
<circle cx="378.00" cy="135.00" r="5.4" fill="#fff"/>
<circle cx="383.75" cy="132.75" r="5.4" fill="#fff"/>
<circle cx="396.25" cy="126.75" r="5.4" fill="#fff"/>
<circle cx="402.50" cy="118.25" r="5.4" fill="#fff"/>
<circle cx="408.75" cy="118.75" r="5.4" fill="#fff"/>
<circle cx="413.75" cy="118.75" r="5.4" fill="#fff"/>
<circle cx="418.25" cy="123.00" r="5.4" fill="#fff"/>
<circle cx="426.25" cy="122.00" r="5.4" fill="#fff"/>
<circle cx="433.00" cy="122.00" r="5.4" fill="#fff"/>
<circle cx="440.00" cy="118.00" r="5.4" fill="#fff"/>
<circle cx="457.00" cy="118.25" r="5.4" fill="#fff"/>
<circle cx="463.00" cy="117.00" r="5.4" fill="#fff"/>
<circle cx="470.00" cy="124.25" r="5.4" fill="#fff"/>
<circle cx="473.75" cy="130.00" r="5.4" fill="#fff"/>
<circle cx="480.00" cy="137.00" r="5.4" fill="#fff"/>
<circle cx="485.50" cy="136.75" r="5.4" fill="#fff"/>
<circle cx="491.25" cy="126.75" r="5.4" fill="#fff"/>
<circle cx="497.00" cy="125.75" r="5.4" fill="#fff"/>
<circle cx="505.75" cy="123.00" r="5.4" fill="#fff"/>
<circle cx="519.25" cy="125.75" r="5.4" fill="#fff"/>
<circle cx="525.00" cy="126.25" r="5.4" fill="#fff"/>
<circle cx="532.50" cy="124.50" r="5.4" fill="#fff"/>
<circle cx="538.00" cy="124.25" r="5.4" fill="#fff"/>
<circle cx="552.00" cy="118.00" r="5.4" fill="#fff"/>
<circle cx="559.50" cy="125.00" r="5.4" fill="#fff"/>
<circle cx="565.00" cy="133.25" r="5.4" fill="#fff"/>
<circle cx="572.00" cy="143.25" r="5.4" fill="#fff"/>
<circle cx="606.25" cy="155.50" r="5.4" fill="#fff"/>
<circle cx="612.00" cy="146.75" r="5.4" fill="#fff"/>
<circle cx="617.00" cy="139.25" r="5.4" fill="#fff"/>
<circle cx="623.75" cy="141.25" r="5.4" fill="#fff"/>
<circle cx="626.25" cy="143.25" r="5.4" fill="#fff"/>
<circle cx="632.00" cy="151.25" r="5.4" fill="#fff"/>
<circle cx="637.00" cy="146.75" r="5.4" fill="#fff"/>
<circle cx="648.00" cy="141.75" r="5.4" fill="#fff"/>
<circle cx="661.25" cy="143.25" r="5.4" fill="#fff"/>
<circle cx="665.50" cy="146.25" r="5.4" fill="#fff"/>
<circle cx="671.25" cy="150.75" r="5.4" fill="#fff"/>
<circle cx="678.75" cy="143.00" r="5.4" fill="#fff"/>
<circle cx="686.25" cy="140.00" r="5.4" fill="#fff"/>
<circle cx="701.25" cy="134.50" r="5.4" fill="#fff"/>
<circle cx="705.50" cy="128.25" r="5.4" fill="#fff"/>
<circle cx="710.00" cy="121.75" r="5.4" fill="#fff"/>
<circle cx="715.50" cy="123.75" r="5.4" fill="#fff"/>
<circle cx="720.50" cy="127.00" r="5.4" fill="#fff"/>
<circle cx="725.00" cy="135.00" r="5.4" fill="#fff"/>
<circle cx="730.50" cy="135.00" r="5.4" fill="#fff"/>
<circle cx="735.50" cy="136.25" r="5.4" fill="#fff"/>
<circle cx="742.00" cy="133.75" r="5.4" fill="#fff"/>
<circle cx="751.25" cy="133.25" r="5.4" fill="#fff"/>
<circle cx="757.50" cy="129.50" r="5.4" fill="#fff"/>
<circle cx="771.25" cy="126.25" r="5.4" fill="#fff"/>
<circle cx="777.00" cy="125.00" r="5.4" fill="#fff"/>
<circle cx="782.50" cy="126.75" r="5.4" fill="#fff"/>
<circle cx="789.00" cy="130.00" r="5.4" fill="#fff"/>
<circle cx="802.00" cy="132.50" r="5.4" fill="#fff"/>
<circle cx="808.00" cy="133.00" r="5.4" fill="#fff"/>
<circle cx="813.00" cy="131.25" r="5.4" fill="#fff"/>
<circle cx="819.25" cy="128.00" r="5.4" fill="#fff"/>
<circle cx="824.50" cy="128.75" r="5.4" fill="#fff"/>
<circle cx="830.00" cy="129.25" r="5.4" fill="#fff"/>
<circle cx="835.00" cy="132.50" r="5.4" fill="#fff"/>
<circle cx="846.75" cy="132.50" r="5.4" fill="#fff"/>
<circle cx="853.25" cy="132.50" r="5.4" fill="#fff"/>
<circle cx="170.00" cy="150.25" r="5.4" fill="none" stroke="#000" stroke-width="1.3"/>
<circle cx="197.00" cy="142.50" r="5.4" fill="none" stroke="#000" stroke-width="1.3"/>
<circle cx="202.50" cy="145.50" r="5.4" fill="none" stroke="#000" stroke-width="1.3"/>
<circle cx="207.50" cy="150.00" r="5.4" fill="none" stroke="#000" stroke-width="1.3"/>
<circle cx="214.50" cy="161.75" r="5.4" fill="none" stroke="#000" stroke-width="1.3"/>
<circle cx="221.25" cy="144.25" r="5.4" fill="none" stroke="#000" stroke-width="1.3"/>
<circle cx="225.50" cy="140.75" r="5.4" fill="none" stroke="#000" stroke-width="1.3"/>
<circle cx="230.75" cy="141.25" r="5.4" fill="none" stroke="#000" stroke-width="1.3"/>
<circle cx="259.00" cy="156.50" r="5.4" fill="none" stroke="#000" stroke-width="1.3"/>
<circle cx="271.25" cy="156.50" r="5.4" fill="none" stroke="#000" stroke-width="1.3"/>
<circle cx="276.25" cy="156.50" r="5.4" fill="none" stroke="#000" stroke-width="1.3"/>
<circle cx="282.00" cy="126.25" r="5.4" fill="none" stroke="#000" stroke-width="1.3"/>
<circle cx="287.50" cy="132.75" r="5.4" fill="none" stroke="#000" stroke-width="1.3"/>
<circle cx="299.00" cy="137.00" r="5.4" fill="none" stroke="#000" stroke-width="1.3"/>
<circle cx="315.00" cy="136.50" r="5.4" fill="none" stroke="#000" stroke-width="1.3"/>
<circle cx="344.25" cy="137.00" r="5.4" fill="none" stroke="#000" stroke-width="1.3"/>
<circle cx="348.00" cy="123.00" r="5.4" fill="none" stroke="#000" stroke-width="1.3"/>
<circle cx="358.25" cy="122.00" r="5.4" fill="none" stroke="#000" stroke-width="1.3"/>
<circle cx="368.75" cy="124.25" r="5.4" fill="none" stroke="#000" stroke-width="1.3"/>
<circle cx="378.00" cy="135.00" r="5.4" fill="none" stroke="#000" stroke-width="1.3"/>
<circle cx="383.75" cy="132.75" r="5.4" fill="none" stroke="#000" stroke-width="1.3"/>
<circle cx="396.25" cy="126.75" r="5.4" fill="none" stroke="#000" stroke-width="1.3"/>
<circle cx="402.50" cy="118.25" r="5.4" fill="none" stroke="#000" stroke-width="1.3"/>
<circle cx="408.75" cy="118.75" r="5.4" fill="none" stroke="#000" stroke-width="1.3"/>
<circle cx="413.75" cy="118.75" r="5.4" fill="none" stroke="#000" stroke-width="1.3"/>
<circle cx="418.25" cy="123.00" r="5.4" fill="none" stroke="#000" stroke-width="1.3"/>
<circle cx="426.25" cy="122.00" r="5.4" fill="none" stroke="#000" stroke-width="1.3"/>
<circle cx="433.00" cy="122.00" r="5.4" fill="none" stroke="#000" stroke-width="1.3"/>
<circle cx="440.00" cy="118.00" r="5.4" fill="none" stroke="#000" stroke-width="1.3"/>
<circle cx="457.00" cy="118.25" r="5.4" fill="none" stroke="#000" stroke-width="1.3"/>
<circle cx="463.00" cy="117.00" r="5.4" fill="none" stroke="#000" stroke-width="1.3"/>
<circle cx="470.00" cy="124.25" r="5.4" fill="none" stroke="#000" stroke-width="1.3"/>
<circle cx="473.75" cy="130.00" r="5.4" fill="none" stroke="#000" stroke-width="1.3"/>
<circle cx="480.00" cy="137.00" r="5.4" fill="none" stroke="#000" stroke-width="1.3"/>
<circle cx="485.50" cy="136.75" r="5.4" fill="none" stroke="#000" stroke-width="1.3"/>
<circle cx="491.25" cy="126.75" r="5.4" fill="none" stroke="#000" stroke-width="1.3"/>
<circle cx="497.00" cy="125.75" r="5.4" fill="none" stroke="#000" stroke-width="1.3"/>
<circle cx="505.75" cy="123.00" r="5.4" fill="none" stroke="#000" stroke-width="1.3"/>
<circle cx="519.25" cy="125.75" r="5.4" fill="none" stroke="#000" stroke-width="1.3"/>
<circle cx="525.00" cy="126.25" r="5.4" fill="none" stroke="#000" stroke-width="1.3"/>
<circle cx="532.50" cy="124.50" r="5.4" fill="none" stroke="#000" stroke-width="1.3"/>
<circle cx="538.00" cy="124.25" r="5.4" fill="none" stroke="#000" stroke-width="1.3"/>
<circle cx="552.00" cy="118.00" r="5.4" fill="none" stroke="#000" stroke-width="1.3"/>
<circle cx="559.50" cy="125.00" r="5.4" fill="none" stroke="#000" stroke-width="1.3"/>
<circle cx="565.00" cy="133.25" r="5.4" fill="none" stroke="#000" stroke-width="1.3"/>
<circle cx="572.00" cy="143.25" r="5.4" fill="none" stroke="#000" stroke-width="1.3"/>
<circle cx="606.25" cy="155.50" r="5.4" fill="none" stroke="#000" stroke-width="1.3"/>
<circle cx="612.00" cy="146.75" r="5.4" fill="none" stroke="#000" stroke-width="1.3"/>
<circle cx="617.00" cy="139.25" r="5.4" fill="none" stroke="#000" stroke-width="1.3"/>
<circle cx="623.75" cy="141.25" r="5.4" fill="none" stroke="#000" stroke-width="1.3"/>
<circle cx="626.25" cy="143.25" r="5.4" fill="none" stroke="#000" stroke-width="1.3"/>
<circle cx="632.00" cy="151.25" r="5.4" fill="none" stroke="#000" stroke-width="1.3"/>
<circle cx="637.00" cy="146.75" r="5.4" fill="none" stroke="#000" stroke-width="1.3"/>
<circle cx="648.00" cy="141.75" r="5.4" fill="none" stroke="#000" stroke-width="1.3"/>
<circle cx="661.25" cy="143.25" r="5.4" fill="none" stroke="#000" stroke-width="1.3"/>
<circle cx="665.50" cy="146.25" r="5.4" fill="none" stroke="#000" stroke-width="1.3"/>
<circle cx="671.25" cy="150.75" r="5.4" fill="none" stroke="#000" stroke-width="1.3"/>
<circle cx="678.75" cy="143.00" r="5.4" fill="none" stroke="#000" stroke-width="1.3"/>
<circle cx="686.25" cy="140.00" r="5.4" fill="none" stroke="#000" stroke-width="1.3"/>
<circle cx="701.25" cy="134.50" r="5.4" fill="none" stroke="#000" stroke-width="1.3"/>
<circle cx="705.50" cy="128.25" r="5.4" fill="none" stroke="#000" stroke-width="1.3"/>
<circle cx="710.00" cy="121.75" r="5.4" fill="none" stroke="#000" stroke-width="1.3"/>
<circle cx="715.50" cy="123.75" r="5.4" fill="none" stroke="#000" stroke-width="1.3"/>
<circle cx="720.50" cy="127.00" r="5.4" fill="none" stroke="#000" stroke-width="1.3"/>
<circle cx="725.00" cy="135.00" r="5.4" fill="none" stroke="#000" stroke-width="1.3"/>
<circle cx="730.50" cy="135.00" r="5.4" fill="none" stroke="#000" stroke-width="1.3"/>
<circle cx="735.50" cy="136.25" r="5.4" fill="none" stroke="#000" stroke-width="1.3"/>
<circle cx="742.00" cy="133.75" r="5.4" fill="none" stroke="#000" stroke-width="1.3"/>
<circle cx="751.25" cy="133.25" r="5.4" fill="none" stroke="#000" stroke-width="1.3"/>
<circle cx="757.50" cy="129.50" r="5.4" fill="none" stroke="#000" stroke-width="1.3"/>
<circle cx="771.25" cy="126.25" r="5.4" fill="none" stroke="#000" stroke-width="1.3"/>
<circle cx="777.00" cy="125.00" r="5.4" fill="none" stroke="#000" stroke-width="1.3"/>
<circle cx="782.50" cy="126.75" r="5.4" fill="none" stroke="#000" stroke-width="1.3"/>
<circle cx="789.00" cy="130.00" r="5.4" fill="none" stroke="#000" stroke-width="1.3"/>
<circle cx="802.00" cy="132.50" r="5.4" fill="none" stroke="#000" stroke-width="1.3"/>
<circle cx="808.00" cy="133.00" r="5.4" fill="none" stroke="#000" stroke-width="1.3"/>
<circle cx="813.00" cy="131.25" r="5.4" fill="none" stroke="#000" stroke-width="1.3"/>
<circle cx="819.25" cy="128.00" r="5.4" fill="none" stroke="#000" stroke-width="1.3"/>
<circle cx="824.50" cy="128.75" r="5.4" fill="none" stroke="#000" stroke-width="1.3"/>
<circle cx="830.00" cy="129.25" r="5.4" fill="none" stroke="#000" stroke-width="1.3"/>
<circle cx="835.00" cy="132.50" r="5.4" fill="none" stroke="#000" stroke-width="1.3"/>
<circle cx="846.75" cy="132.50" r="5.4" fill="none" stroke="#000" stroke-width="1.3"/>
<circle cx="853.25" cy="132.50" r="5.4" fill="none" stroke="#000" stroke-width="1.3"/>
<polyline points="101.75,366.25 108.00,367.00 121.75,362.00 127.50,348.75 133.75,347.00 139.25,349.00 143.75,357.00 149.25,364.00 155.75,362.75 162.00,370.00 170.00,366.75 174.25,363.75 178.75,350.25 183.00,360.50 193.25,353.75 197.00,358.00 202.50,349.50 207.50,351.75 214.50,356.50 221.25,360.50 225.00,370.00 231.25,370.00 242.00,361.25 250.25,354.25 259.00,343.75 270.50,349.50 276.25,348.25 282.00,349.50 288.00,343.25 299.00,346.50 302.50,356.50 310.00,350.00 315.00,357.50 332.50,349.25 338.75,352.25 344.25,324.25 348.00,324.25 358.75,332.00 368.75,360.00 378.00,357.50 383.75,349.50 396.75,344.50 402.50,337.00 409.25,334.50 413.75,341.25 418.25,358.00 425.25,373.75 433.00,368.75 440.00,362.00 456.75,350.00 462.50,338.25 470.00,341.75 474.50,344.25 480.00,352.75 485.75,361.25 491.25,371.75 496.75,380.00 505.75,376.25 519.25,369.00 525.00,358.50 533.00,358.50 538.25,340.25 551.75,333.25 559.50,319.50 565.50,319.00 572.50,317.50 576.75,323.75 580.75,328.25 586.75,330.75 599.25,320.75 606.25,316.25 612.00,314.50 617.00,311.75 623.75,313.00 627.00,311.75 632.00,317.00 637.00,315.50 647.50,318.00 661.25,315.00 665.00,320.50 671.25,321.25 679.00,321.25 686.50,312.00 701.25,309.00 705.50,310.75 710.25,317.50 715.50,323.75 720.50,327.50 725.75,322.50 731.25,318.75 735.00,309.25 742.00,303.00 751.25,301.25 757.50,297.50 771.75,302.50 777.00,312.00 784.25,317.50 788.75,320.75 802.50,322.50 808.00,327.50 813.75,322.00 820.00,320.00 825.00,312.50 830.00,317.50 835.00,301.75 846.75,303.75" fill="none" stroke="#000" stroke-width="1.55" stroke-linejoin="round"/>
<circle cx="101.75" cy="366.25" r="5.4" fill="#bdbdbd"/>
<circle cx="108.00" cy="367.00" r="5.4" fill="#bdbdbd"/>
<circle cx="121.75" cy="362.00" r="5.4" fill="#bdbdbd"/>
<circle cx="127.50" cy="348.75" r="5.4" fill="#bdbdbd"/>
<circle cx="133.75" cy="347.00" r="5.4" fill="#bdbdbd"/>
<circle cx="139.25" cy="349.00" r="5.4" fill="#bdbdbd"/>
<circle cx="143.75" cy="357.00" r="5.4" fill="#bdbdbd"/>
<circle cx="149.25" cy="364.00" r="5.4" fill="#bdbdbd"/>
<circle cx="155.75" cy="362.75" r="5.4" fill="#bdbdbd"/>
<circle cx="162.00" cy="370.00" r="5.4" fill="#bdbdbd"/>
<circle cx="170.00" cy="366.75" r="5.4" fill="#bdbdbd"/>
<circle cx="174.25" cy="363.75" r="5.4" fill="#bdbdbd"/>
<circle cx="178.75" cy="350.25" r="5.4" fill="#bdbdbd"/>
<circle cx="183.00" cy="360.50" r="5.4" fill="#bdbdbd"/>
<circle cx="193.25" cy="353.75" r="5.4" fill="#bdbdbd"/>
<circle cx="197.00" cy="358.00" r="5.4" fill="#bdbdbd"/>
<circle cx="202.50" cy="349.50" r="5.4" fill="#bdbdbd"/>
<circle cx="207.50" cy="351.75" r="5.4" fill="#bdbdbd"/>
<circle cx="214.50" cy="356.50" r="5.4" fill="#bdbdbd"/>
<circle cx="221.25" cy="360.50" r="5.4" fill="#bdbdbd"/>
<circle cx="225.00" cy="370.00" r="5.4" fill="#bdbdbd"/>
<circle cx="231.25" cy="370.00" r="5.4" fill="#bdbdbd"/>
<circle cx="242.00" cy="361.25" r="5.4" fill="#bdbdbd"/>
<circle cx="250.25" cy="354.25" r="5.4" fill="#bdbdbd"/>
<circle cx="259.00" cy="343.75" r="5.4" fill="#bdbdbd"/>
<circle cx="270.50" cy="349.50" r="5.4" fill="#bdbdbd"/>
<circle cx="276.25" cy="348.25" r="5.4" fill="#bdbdbd"/>
<circle cx="282.00" cy="349.50" r="5.4" fill="#bdbdbd"/>
<circle cx="288.00" cy="343.25" r="5.4" fill="#bdbdbd"/>
<circle cx="299.00" cy="346.50" r="5.4" fill="#bdbdbd"/>
<circle cx="302.50" cy="356.50" r="5.4" fill="#bdbdbd"/>
<circle cx="310.00" cy="350.00" r="5.4" fill="#bdbdbd"/>
<circle cx="315.00" cy="357.50" r="5.4" fill="#bdbdbd"/>
<circle cx="332.50" cy="349.25" r="5.4" fill="#bdbdbd"/>
<circle cx="338.75" cy="352.25" r="5.4" fill="#bdbdbd"/>
<circle cx="344.25" cy="324.25" r="5.4" fill="#bdbdbd"/>
<circle cx="348.00" cy="324.25" r="5.4" fill="#bdbdbd"/>
<circle cx="358.75" cy="332.00" r="5.4" fill="#bdbdbd"/>
<circle cx="368.75" cy="360.00" r="5.4" fill="#bdbdbd"/>
<circle cx="378.00" cy="357.50" r="5.4" fill="#bdbdbd"/>
<circle cx="383.75" cy="349.50" r="5.4" fill="#bdbdbd"/>
<circle cx="396.75" cy="344.50" r="5.4" fill="#bdbdbd"/>
<circle cx="402.50" cy="337.00" r="5.4" fill="#bdbdbd"/>
<circle cx="409.25" cy="334.50" r="5.4" fill="#bdbdbd"/>
<circle cx="413.75" cy="341.25" r="5.4" fill="#bdbdbd"/>
<circle cx="418.25" cy="358.00" r="5.4" fill="#bdbdbd"/>
<circle cx="425.25" cy="373.75" r="5.4" fill="#bdbdbd"/>
<circle cx="433.00" cy="368.75" r="5.4" fill="#bdbdbd"/>
<circle cx="440.00" cy="362.00" r="5.4" fill="#bdbdbd"/>
<circle cx="456.75" cy="350.00" r="5.4" fill="#bdbdbd"/>
<circle cx="462.50" cy="338.25" r="5.4" fill="#bdbdbd"/>
<circle cx="470.00" cy="341.75" r="5.4" fill="#bdbdbd"/>
<circle cx="474.50" cy="344.25" r="5.4" fill="#bdbdbd"/>
<circle cx="480.00" cy="352.75" r="5.4" fill="#bdbdbd"/>
<circle cx="485.75" cy="361.25" r="5.4" fill="#bdbdbd"/>
<circle cx="491.25" cy="371.75" r="5.4" fill="#bdbdbd"/>
<circle cx="496.75" cy="380.00" r="5.4" fill="#bdbdbd"/>
<circle cx="505.75" cy="376.25" r="5.4" fill="#bdbdbd"/>
<circle cx="519.25" cy="369.00" r="5.4" fill="#bdbdbd"/>
<circle cx="525.00" cy="358.50" r="5.4" fill="#bdbdbd"/>
<circle cx="533.00" cy="358.50" r="5.4" fill="#bdbdbd"/>
<circle cx="538.25" cy="340.25" r="5.4" fill="#bdbdbd"/>
<circle cx="551.75" cy="333.25" r="5.4" fill="#bdbdbd"/>
<circle cx="559.50" cy="319.50" r="5.4" fill="#bdbdbd"/>
<circle cx="565.50" cy="319.00" r="5.4" fill="#bdbdbd"/>
<circle cx="572.50" cy="317.50" r="5.4" fill="#bdbdbd"/>
<circle cx="576.75" cy="323.75" r="5.4" fill="#bdbdbd"/>
<circle cx="580.75" cy="328.25" r="5.4" fill="#bdbdbd"/>
<circle cx="586.75" cy="330.75" r="5.4" fill="#bdbdbd"/>
<circle cx="599.25" cy="320.75" r="5.4" fill="#bdbdbd"/>
<circle cx="606.25" cy="316.25" r="5.4" fill="#bdbdbd"/>
<circle cx="612.00" cy="314.50" r="5.4" fill="#bdbdbd"/>
<circle cx="617.00" cy="311.75" r="5.4" fill="#bdbdbd"/>
<circle cx="623.75" cy="313.00" r="5.4" fill="#bdbdbd"/>
<circle cx="627.00" cy="311.75" r="5.4" fill="#bdbdbd"/>
<circle cx="632.00" cy="317.00" r="5.4" fill="#bdbdbd"/>
<circle cx="637.00" cy="315.50" r="5.4" fill="#bdbdbd"/>
<circle cx="647.50" cy="318.00" r="5.4" fill="#bdbdbd"/>
<circle cx="661.25" cy="315.00" r="5.4" fill="#bdbdbd"/>
<circle cx="665.00" cy="320.50" r="5.4" fill="#bdbdbd"/>
<circle cx="671.25" cy="321.25" r="5.4" fill="#bdbdbd"/>
<circle cx="679.00" cy="321.25" r="5.4" fill="#bdbdbd"/>
<circle cx="686.50" cy="312.00" r="5.4" fill="#bdbdbd"/>
<circle cx="701.25" cy="309.00" r="5.4" fill="#bdbdbd"/>
<circle cx="705.50" cy="310.75" r="5.4" fill="#bdbdbd"/>
<circle cx="710.25" cy="317.50" r="5.4" fill="#bdbdbd"/>
<circle cx="715.50" cy="323.75" r="5.4" fill="#bdbdbd"/>
<circle cx="720.50" cy="327.50" r="5.4" fill="#bdbdbd"/>
<circle cx="725.75" cy="322.50" r="5.4" fill="#bdbdbd"/>
<circle cx="731.25" cy="318.75" r="5.4" fill="#bdbdbd"/>
<circle cx="735.00" cy="309.25" r="5.4" fill="#bdbdbd"/>
<circle cx="742.00" cy="303.00" r="5.4" fill="#bdbdbd"/>
<circle cx="751.25" cy="301.25" r="5.4" fill="#bdbdbd"/>
<circle cx="757.50" cy="297.50" r="5.4" fill="#bdbdbd"/>
<circle cx="771.75" cy="302.50" r="5.4" fill="#bdbdbd"/>
<circle cx="777.00" cy="312.00" r="5.4" fill="#bdbdbd"/>
<circle cx="784.25" cy="317.50" r="5.4" fill="#bdbdbd"/>
<circle cx="788.75" cy="320.75" r="5.4" fill="#bdbdbd"/>
<circle cx="802.50" cy="322.50" r="5.4" fill="#bdbdbd"/>
<circle cx="808.00" cy="327.50" r="5.4" fill="#bdbdbd"/>
<circle cx="813.75" cy="322.00" r="5.4" fill="#bdbdbd"/>
<circle cx="820.00" cy="320.00" r="5.4" fill="#bdbdbd"/>
<circle cx="825.00" cy="312.50" r="5.4" fill="#bdbdbd"/>
<circle cx="830.00" cy="317.50" r="5.4" fill="#bdbdbd"/>
<circle cx="835.00" cy="301.75" r="5.4" fill="#bdbdbd"/>
<circle cx="846.75" cy="303.75" r="5.4" fill="#bdbdbd"/>
<circle cx="101.75" cy="366.25" r="5.4" fill="none" stroke="#000" stroke-width="1.3"/>
<circle cx="108.00" cy="367.00" r="5.4" fill="none" stroke="#000" stroke-width="1.3"/>
<circle cx="121.75" cy="362.00" r="5.4" fill="none" stroke="#000" stroke-width="1.3"/>
<circle cx="127.50" cy="348.75" r="5.4" fill="none" stroke="#000" stroke-width="1.3"/>
<circle cx="133.75" cy="347.00" r="5.4" fill="none" stroke="#000" stroke-width="1.3"/>
<circle cx="139.25" cy="349.00" r="5.4" fill="none" stroke="#000" stroke-width="1.3"/>
<circle cx="143.75" cy="357.00" r="5.4" fill="none" stroke="#000" stroke-width="1.3"/>
<circle cx="149.25" cy="364.00" r="5.4" fill="none" stroke="#000" stroke-width="1.3"/>
<circle cx="155.75" cy="362.75" r="5.4" fill="none" stroke="#000" stroke-width="1.3"/>
<circle cx="162.00" cy="370.00" r="5.4" fill="none" stroke="#000" stroke-width="1.3"/>
<circle cx="170.00" cy="366.75" r="5.4" fill="none" stroke="#000" stroke-width="1.3"/>
<circle cx="174.25" cy="363.75" r="5.4" fill="none" stroke="#000" stroke-width="1.3"/>
<circle cx="178.75" cy="350.25" r="5.4" fill="none" stroke="#000" stroke-width="1.3"/>
<circle cx="183.00" cy="360.50" r="5.4" fill="none" stroke="#000" stroke-width="1.3"/>
<circle cx="193.25" cy="353.75" r="5.4" fill="none" stroke="#000" stroke-width="1.3"/>
<circle cx="197.00" cy="358.00" r="5.4" fill="none" stroke="#000" stroke-width="1.3"/>
<circle cx="202.50" cy="349.50" r="5.4" fill="none" stroke="#000" stroke-width="1.3"/>
<circle cx="207.50" cy="351.75" r="5.4" fill="none" stroke="#000" stroke-width="1.3"/>
<circle cx="214.50" cy="356.50" r="5.4" fill="none" stroke="#000" stroke-width="1.3"/>
<circle cx="221.25" cy="360.50" r="5.4" fill="none" stroke="#000" stroke-width="1.3"/>
<circle cx="225.00" cy="370.00" r="5.4" fill="none" stroke="#000" stroke-width="1.3"/>
<circle cx="231.25" cy="370.00" r="5.4" fill="none" stroke="#000" stroke-width="1.3"/>
<circle cx="242.00" cy="361.25" r="5.4" fill="none" stroke="#000" stroke-width="1.3"/>
<circle cx="250.25" cy="354.25" r="5.4" fill="none" stroke="#000" stroke-width="1.3"/>
<circle cx="259.00" cy="343.75" r="5.4" fill="none" stroke="#000" stroke-width="1.3"/>
<circle cx="270.50" cy="349.50" r="5.4" fill="none" stroke="#000" stroke-width="1.3"/>
<circle cx="276.25" cy="348.25" r="5.4" fill="none" stroke="#000" stroke-width="1.3"/>
<circle cx="282.00" cy="349.50" r="5.4" fill="none" stroke="#000" stroke-width="1.3"/>
<circle cx="288.00" cy="343.25" r="5.4" fill="none" stroke="#000" stroke-width="1.3"/>
<circle cx="299.00" cy="346.50" r="5.4" fill="none" stroke="#000" stroke-width="1.3"/>
<circle cx="302.50" cy="356.50" r="5.4" fill="none" stroke="#000" stroke-width="1.3"/>
<circle cx="310.00" cy="350.00" r="5.4" fill="none" stroke="#000" stroke-width="1.3"/>
<circle cx="315.00" cy="357.50" r="5.4" fill="none" stroke="#000" stroke-width="1.3"/>
<circle cx="332.50" cy="349.25" r="5.4" fill="none" stroke="#000" stroke-width="1.3"/>
<circle cx="338.75" cy="352.25" r="5.4" fill="none" stroke="#000" stroke-width="1.3"/>
<circle cx="344.25" cy="324.25" r="5.4" fill="none" stroke="#000" stroke-width="1.3"/>
<circle cx="348.00" cy="324.25" r="5.4" fill="none" stroke="#000" stroke-width="1.3"/>
<circle cx="358.75" cy="332.00" r="5.4" fill="none" stroke="#000" stroke-width="1.3"/>
<circle cx="368.75" cy="360.00" r="5.4" fill="none" stroke="#000" stroke-width="1.3"/>
<circle cx="378.00" cy="357.50" r="5.4" fill="none" stroke="#000" stroke-width="1.3"/>
<circle cx="383.75" cy="349.50" r="5.4" fill="none" stroke="#000" stroke-width="1.3"/>
<circle cx="396.75" cy="344.50" r="5.4" fill="none" stroke="#000" stroke-width="1.3"/>
<circle cx="402.50" cy="337.00" r="5.4" fill="none" stroke="#000" stroke-width="1.3"/>
<circle cx="409.25" cy="334.50" r="5.4" fill="none" stroke="#000" stroke-width="1.3"/>
<circle cx="413.75" cy="341.25" r="5.4" fill="none" stroke="#000" stroke-width="1.3"/>
<circle cx="418.25" cy="358.00" r="5.4" fill="none" stroke="#000" stroke-width="1.3"/>
<circle cx="425.25" cy="373.75" r="5.4" fill="none" stroke="#000" stroke-width="1.3"/>
<circle cx="433.00" cy="368.75" r="5.4" fill="none" stroke="#000" stroke-width="1.3"/>
<circle cx="440.00" cy="362.00" r="5.4" fill="none" stroke="#000" stroke-width="1.3"/>
<circle cx="456.75" cy="350.00" r="5.4" fill="none" stroke="#000" stroke-width="1.3"/>
<circle cx="462.50" cy="338.25" r="5.4" fill="none" stroke="#000" stroke-width="1.3"/>
<circle cx="470.00" cy="341.75" r="5.4" fill="none" stroke="#000" stroke-width="1.3"/>
<circle cx="474.50" cy="344.25" r="5.4" fill="none" stroke="#000" stroke-width="1.3"/>
<circle cx="480.00" cy="352.75" r="5.4" fill="none" stroke="#000" stroke-width="1.3"/>
<circle cx="485.75" cy="361.25" r="5.4" fill="none" stroke="#000" stroke-width="1.3"/>
<circle cx="491.25" cy="371.75" r="5.4" fill="none" stroke="#000" stroke-width="1.3"/>
<circle cx="496.75" cy="380.00" r="5.4" fill="none" stroke="#000" stroke-width="1.3"/>
<circle cx="505.75" cy="376.25" r="5.4" fill="none" stroke="#000" stroke-width="1.3"/>
<circle cx="519.25" cy="369.00" r="5.4" fill="none" stroke="#000" stroke-width="1.3"/>
<circle cx="525.00" cy="358.50" r="5.4" fill="none" stroke="#000" stroke-width="1.3"/>
<circle cx="533.00" cy="358.50" r="5.4" fill="none" stroke="#000" stroke-width="1.3"/>
<circle cx="538.25" cy="340.25" r="5.4" fill="none" stroke="#000" stroke-width="1.3"/>
<circle cx="551.75" cy="333.25" r="5.4" fill="none" stroke="#000" stroke-width="1.3"/>
<circle cx="559.50" cy="319.50" r="5.4" fill="none" stroke="#000" stroke-width="1.3"/>
<circle cx="565.50" cy="319.00" r="5.4" fill="none" stroke="#000" stroke-width="1.3"/>
<circle cx="572.50" cy="317.50" r="5.4" fill="none" stroke="#000" stroke-width="1.3"/>
<circle cx="576.75" cy="323.75" r="5.4" fill="none" stroke="#000" stroke-width="1.3"/>
<circle cx="580.75" cy="328.25" r="5.4" fill="none" stroke="#000" stroke-width="1.3"/>
<circle cx="586.75" cy="330.75" r="5.4" fill="none" stroke="#000" stroke-width="1.3"/>
<circle cx="599.25" cy="320.75" r="5.4" fill="none" stroke="#000" stroke-width="1.3"/>
<circle cx="606.25" cy="316.25" r="5.4" fill="none" stroke="#000" stroke-width="1.3"/>
<circle cx="612.00" cy="314.50" r="5.4" fill="none" stroke="#000" stroke-width="1.3"/>
<circle cx="617.00" cy="311.75" r="5.4" fill="none" stroke="#000" stroke-width="1.3"/>
<circle cx="623.75" cy="313.00" r="5.4" fill="none" stroke="#000" stroke-width="1.3"/>
<circle cx="627.00" cy="311.75" r="5.4" fill="none" stroke="#000" stroke-width="1.3"/>
<circle cx="632.00" cy="317.00" r="5.4" fill="none" stroke="#000" stroke-width="1.3"/>
<circle cx="637.00" cy="315.50" r="5.4" fill="none" stroke="#000" stroke-width="1.3"/>
<circle cx="647.50" cy="318.00" r="5.4" fill="none" stroke="#000" stroke-width="1.3"/>
<circle cx="661.25" cy="315.00" r="5.4" fill="none" stroke="#000" stroke-width="1.3"/>
<circle cx="665.00" cy="320.50" r="5.4" fill="none" stroke="#000" stroke-width="1.3"/>
<circle cx="671.25" cy="321.25" r="5.4" fill="none" stroke="#000" stroke-width="1.3"/>
<circle cx="679.00" cy="321.25" r="5.4" fill="none" stroke="#000" stroke-width="1.3"/>
<circle cx="686.50" cy="312.00" r="5.4" fill="none" stroke="#000" stroke-width="1.3"/>
<circle cx="701.25" cy="309.00" r="5.4" fill="none" stroke="#000" stroke-width="1.3"/>
<circle cx="705.50" cy="310.75" r="5.4" fill="none" stroke="#000" stroke-width="1.3"/>
<circle cx="710.25" cy="317.50" r="5.4" fill="none" stroke="#000" stroke-width="1.3"/>
<circle cx="715.50" cy="323.75" r="5.4" fill="none" stroke="#000" stroke-width="1.3"/>
<circle cx="720.50" cy="327.50" r="5.4" fill="none" stroke="#000" stroke-width="1.3"/>
<circle cx="725.75" cy="322.50" r="5.4" fill="none" stroke="#000" stroke-width="1.3"/>
<circle cx="731.25" cy="318.75" r="5.4" fill="none" stroke="#000" stroke-width="1.3"/>
<circle cx="735.00" cy="309.25" r="5.4" fill="none" stroke="#000" stroke-width="1.3"/>
<circle cx="742.00" cy="303.00" r="5.4" fill="none" stroke="#000" stroke-width="1.3"/>
<circle cx="751.25" cy="301.25" r="5.4" fill="none" stroke="#000" stroke-width="1.3"/>
<circle cx="757.50" cy="297.50" r="5.4" fill="none" stroke="#000" stroke-width="1.3"/>
<circle cx="771.75" cy="302.50" r="5.4" fill="none" stroke="#000" stroke-width="1.3"/>
<circle cx="777.00" cy="312.00" r="5.4" fill="none" stroke="#000" stroke-width="1.3"/>
<circle cx="784.25" cy="317.50" r="5.4" fill="none" stroke="#000" stroke-width="1.3"/>
<circle cx="788.75" cy="320.75" r="5.4" fill="none" stroke="#000" stroke-width="1.3"/>
<circle cx="802.50" cy="322.50" r="5.4" fill="none" stroke="#000" stroke-width="1.3"/>
<circle cx="808.00" cy="327.50" r="5.4" fill="none" stroke="#000" stroke-width="1.3"/>
<circle cx="813.75" cy="322.00" r="5.4" fill="none" stroke="#000" stroke-width="1.3"/>
<circle cx="820.00" cy="320.00" r="5.4" fill="none" stroke="#000" stroke-width="1.3"/>
<circle cx="825.00" cy="312.50" r="5.4" fill="none" stroke="#000" stroke-width="1.3"/>
<circle cx="830.00" cy="317.50" r="5.4" fill="none" stroke="#000" stroke-width="1.3"/>
<circle cx="835.00" cy="301.75" r="5.4" fill="none" stroke="#000" stroke-width="1.3"/>
<circle cx="846.75" cy="303.75" r="5.4" fill="none" stroke="#000" stroke-width="1.3"/>
<polygon points="101.90,274.06 107.30,284.66 96.50,284.66" fill="#fff" stroke="#000" stroke-width="1.2" stroke-linejoin="miter"/>
<line x1="95.10" y1="663.10" x2="95.10" y2="1151.70" stroke="#444" stroke-width="1.8" />
<line x1="856.00" y1="663.10" x2="856.00" y2="1151.70" stroke="#444" stroke-width="1.8" />
<line x1="88.10" y1="1145.50" x2="862.90" y2="1145.50" stroke="#222" stroke-width="1.3" />
<line x1="95.10" y1="824.30" x2="88.10" y2="824.30" stroke="#2a2a2a" stroke-width="1.35" />
<line x1="95.10" y1="775.95" x2="90.00" y2="775.95" stroke="#2a2a2a" stroke-width="1.35" />
<line x1="95.10" y1="747.67" x2="90.00" y2="747.67" stroke="#2a2a2a" stroke-width="1.35" />
<line x1="95.10" y1="727.61" x2="90.00" y2="727.61" stroke="#2a2a2a" stroke-width="1.35" />
<line x1="95.10" y1="712.05" x2="90.00" y2="712.05" stroke="#2a2a2a" stroke-width="1.35" />
<line x1="95.10" y1="699.33" x2="90.00" y2="699.33" stroke="#2a2a2a" stroke-width="1.35" />
<line x1="95.10" y1="688.58" x2="90.00" y2="688.58" stroke="#2a2a2a" stroke-width="1.35" />
<line x1="95.10" y1="679.26" x2="90.00" y2="679.26" stroke="#2a2a2a" stroke-width="1.35" />
<line x1="95.10" y1="671.05" x2="90.00" y2="671.05" stroke="#2a2a2a" stroke-width="1.35" />
<line x1="95.10" y1="984.90" x2="88.10" y2="984.90" stroke="#2a2a2a" stroke-width="1.35" />
<line x1="95.10" y1="936.55" x2="90.00" y2="936.55" stroke="#2a2a2a" stroke-width="1.35" />
<line x1="95.10" y1="908.27" x2="90.00" y2="908.27" stroke="#2a2a2a" stroke-width="1.35" />
<line x1="95.10" y1="888.21" x2="90.00" y2="888.21" stroke="#2a2a2a" stroke-width="1.35" />
<line x1="95.10" y1="872.65" x2="90.00" y2="872.65" stroke="#2a2a2a" stroke-width="1.35" />
<line x1="95.10" y1="859.93" x2="90.00" y2="859.93" stroke="#2a2a2a" stroke-width="1.35" />
<line x1="95.10" y1="849.18" x2="90.00" y2="849.18" stroke="#2a2a2a" stroke-width="1.35" />
<line x1="95.10" y1="839.86" x2="90.00" y2="839.86" stroke="#2a2a2a" stroke-width="1.35" />
<line x1="95.10" y1="831.65" x2="90.00" y2="831.65" stroke="#2a2a2a" stroke-width="1.35" />
<line x1="95.10" y1="1145.50" x2="88.10" y2="1145.50" stroke="#2a2a2a" stroke-width="1.35" />
<line x1="95.10" y1="1097.15" x2="90.00" y2="1097.15" stroke="#2a2a2a" stroke-width="1.35" />
<line x1="95.10" y1="1068.87" x2="90.00" y2="1068.87" stroke="#2a2a2a" stroke-width="1.35" />
<line x1="95.10" y1="1048.81" x2="90.00" y2="1048.81" stroke="#2a2a2a" stroke-width="1.35" />
<line x1="95.10" y1="1033.25" x2="90.00" y2="1033.25" stroke="#2a2a2a" stroke-width="1.35" />
<line x1="95.10" y1="1020.53" x2="90.00" y2="1020.53" stroke="#2a2a2a" stroke-width="1.35" />
<line x1="95.10" y1="1009.78" x2="90.00" y2="1009.78" stroke="#2a2a2a" stroke-width="1.35" />
<line x1="95.10" y1="1000.46" x2="90.00" y2="1000.46" stroke="#2a2a2a" stroke-width="1.35" />
<line x1="95.10" y1="992.25" x2="90.00" y2="992.25" stroke="#2a2a2a" stroke-width="1.35" />
<line x1="95.10" y1="663.70" x2="88.10" y2="663.70" stroke="#2a2a2a" stroke-width="1.35" />
<line x1="856.00" y1="824.30" x2="862.90" y2="824.30" stroke="#2a2a2a" stroke-width="1.35" />
<line x1="856.00" y1="775.95" x2="861.00" y2="775.95" stroke="#2a2a2a" stroke-width="1.35" />
<line x1="856.00" y1="747.67" x2="861.00" y2="747.67" stroke="#2a2a2a" stroke-width="1.35" />
<line x1="856.00" y1="727.61" x2="861.00" y2="727.61" stroke="#2a2a2a" stroke-width="1.35" />
<line x1="856.00" y1="712.05" x2="861.00" y2="712.05" stroke="#2a2a2a" stroke-width="1.35" />
<line x1="856.00" y1="699.33" x2="861.00" y2="699.33" stroke="#2a2a2a" stroke-width="1.35" />
<line x1="856.00" y1="688.58" x2="861.00" y2="688.58" stroke="#2a2a2a" stroke-width="1.35" />
<line x1="856.00" y1="679.26" x2="861.00" y2="679.26" stroke="#2a2a2a" stroke-width="1.35" />
<line x1="856.00" y1="671.05" x2="861.00" y2="671.05" stroke="#2a2a2a" stroke-width="1.35" />
<line x1="856.00" y1="984.90" x2="862.90" y2="984.90" stroke="#2a2a2a" stroke-width="1.35" />
<line x1="856.00" y1="936.55" x2="861.00" y2="936.55" stroke="#2a2a2a" stroke-width="1.35" />
<line x1="856.00" y1="908.27" x2="861.00" y2="908.27" stroke="#2a2a2a" stroke-width="1.35" />
<line x1="856.00" y1="888.21" x2="861.00" y2="888.21" stroke="#2a2a2a" stroke-width="1.35" />
<line x1="856.00" y1="872.65" x2="861.00" y2="872.65" stroke="#2a2a2a" stroke-width="1.35" />
<line x1="856.00" y1="859.93" x2="861.00" y2="859.93" stroke="#2a2a2a" stroke-width="1.35" />
<line x1="856.00" y1="849.18" x2="861.00" y2="849.18" stroke="#2a2a2a" stroke-width="1.35" />
<line x1="856.00" y1="839.86" x2="861.00" y2="839.86" stroke="#2a2a2a" stroke-width="1.35" />
<line x1="856.00" y1="831.65" x2="861.00" y2="831.65" stroke="#2a2a2a" stroke-width="1.35" />
<line x1="856.00" y1="1145.50" x2="862.90" y2="1145.50" stroke="#2a2a2a" stroke-width="1.35" />
<line x1="856.00" y1="1097.15" x2="861.00" y2="1097.15" stroke="#2a2a2a" stroke-width="1.35" />
<line x1="856.00" y1="1068.87" x2="861.00" y2="1068.87" stroke="#2a2a2a" stroke-width="1.35" />
<line x1="856.00" y1="1048.81" x2="861.00" y2="1048.81" stroke="#2a2a2a" stroke-width="1.35" />
<line x1="856.00" y1="1033.25" x2="861.00" y2="1033.25" stroke="#2a2a2a" stroke-width="1.35" />
<line x1="856.00" y1="1020.53" x2="861.00" y2="1020.53" stroke="#2a2a2a" stroke-width="1.35" />
<line x1="856.00" y1="1009.78" x2="861.00" y2="1009.78" stroke="#2a2a2a" stroke-width="1.35" />
<line x1="856.00" y1="1000.46" x2="861.00" y2="1000.46" stroke="#2a2a2a" stroke-width="1.35" />
<line x1="856.00" y1="992.25" x2="861.00" y2="992.25" stroke="#2a2a2a" stroke-width="1.35" />
<line x1="856.00" y1="663.70" x2="862.90" y2="663.70" stroke="#2a2a2a" stroke-width="1.35" />
<line x1="95.10" y1="1145.50" x2="95.10" y2="1151.70" stroke="#222" stroke-width="1.3" />
<line x1="122.27" y1="1145.50" x2="122.27" y2="1151.70" stroke="#222" stroke-width="1.3" />
<line x1="149.45" y1="1145.50" x2="149.45" y2="1151.70" stroke="#222" stroke-width="1.3" />
<line x1="176.62" y1="1145.50" x2="176.62" y2="1151.70" stroke="#222" stroke-width="1.3" />
<line x1="203.80" y1="1145.50" x2="203.80" y2="1151.70" stroke="#222" stroke-width="1.3" />
<line x1="230.97" y1="1145.50" x2="230.97" y2="1151.70" stroke="#222" stroke-width="1.3" />
<line x1="258.15" y1="1145.50" x2="258.15" y2="1151.70" stroke="#222" stroke-width="1.3" />
<line x1="285.32" y1="1145.50" x2="285.32" y2="1151.70" stroke="#222" stroke-width="1.3" />
<line x1="312.50" y1="1145.50" x2="312.50" y2="1151.70" stroke="#222" stroke-width="1.3" />
<line x1="339.67" y1="1145.50" x2="339.67" y2="1151.70" stroke="#222" stroke-width="1.3" />
<line x1="366.85" y1="1145.50" x2="366.85" y2="1151.70" stroke="#222" stroke-width="1.3" />
<line x1="394.02" y1="1145.50" x2="394.02" y2="1151.70" stroke="#222" stroke-width="1.3" />
<line x1="421.20" y1="1145.50" x2="421.20" y2="1151.70" stroke="#222" stroke-width="1.3" />
<line x1="448.38" y1="1145.50" x2="448.38" y2="1151.70" stroke="#222" stroke-width="1.3" />
<line x1="475.55" y1="1145.50" x2="475.55" y2="1151.70" stroke="#222" stroke-width="1.3" />
<line x1="502.73" y1="1145.50" x2="502.73" y2="1151.70" stroke="#222" stroke-width="1.3" />
<line x1="529.90" y1="1145.50" x2="529.90" y2="1151.70" stroke="#222" stroke-width="1.3" />
<line x1="557.07" y1="1145.50" x2="557.07" y2="1151.70" stroke="#222" stroke-width="1.3" />
<line x1="584.25" y1="1145.50" x2="584.25" y2="1151.70" stroke="#222" stroke-width="1.3" />
<line x1="611.43" y1="1145.50" x2="611.43" y2="1151.70" stroke="#222" stroke-width="1.3" />
<line x1="638.60" y1="1145.50" x2="638.60" y2="1151.70" stroke="#222" stroke-width="1.3" />
<line x1="665.77" y1="1145.50" x2="665.77" y2="1151.70" stroke="#222" stroke-width="1.3" />
<line x1="692.95" y1="1145.50" x2="692.95" y2="1151.70" stroke="#222" stroke-width="1.3" />
<line x1="720.12" y1="1145.50" x2="720.12" y2="1151.70" stroke="#222" stroke-width="1.3" />
<line x1="747.30" y1="1145.50" x2="747.30" y2="1151.70" stroke="#222" stroke-width="1.3" />
<line x1="774.48" y1="1145.50" x2="774.48" y2="1151.70" stroke="#222" stroke-width="1.3" />
<line x1="801.65" y1="1145.50" x2="801.65" y2="1151.70" stroke="#222" stroke-width="1.3" />
<line x1="828.83" y1="1145.50" x2="828.83" y2="1151.70" stroke="#222" stroke-width="1.3" />
<line x1="856.00" y1="1145.50" x2="856.00" y2="1151.70" stroke="#222" stroke-width="1.3" />
<text x="2.50" y="645.50" font-size="33.3" font-weight="bold" textLength="23.4" lengthAdjust="spacingAndGlyphs" text-anchor="start" >B</text>
<text x="36.00" y="672.10" font-size="19.4" stroke="#000" stroke-width="0.35" textLength="38.4" lengthAdjust="spacingAndGlyphs" text-anchor="start" >1.00</text>
<text x="876.60" y="672.60" font-size="19.4" stroke="#000" stroke-width="0.35" textLength="38.4" lengthAdjust="spacingAndGlyphs" text-anchor="start" >1.00</text>
<text x="36.00" y="832.70" font-size="19.4" stroke="#000" stroke-width="0.35" textLength="38.4" lengthAdjust="spacingAndGlyphs" text-anchor="start" >0.10</text>
<text x="876.60" y="833.20" font-size="19.4" stroke="#000" stroke-width="0.35" textLength="38.4" lengthAdjust="spacingAndGlyphs" text-anchor="start" >0.10</text>
<text x="36.00" y="993.30" font-size="19.4" stroke="#000" stroke-width="0.35" textLength="38.4" lengthAdjust="spacingAndGlyphs" text-anchor="start" >0.01</text>
<text x="876.60" y="993.80" font-size="19.4" stroke="#000" stroke-width="0.35" textLength="38.4" lengthAdjust="spacingAndGlyphs" text-anchor="start" >0.01</text>
<text x="36.00" y="1153.90" font-size="19.4" stroke="#000" stroke-width="0.35" textLength="38.4" lengthAdjust="spacingAndGlyphs" text-anchor="start" >0.00</text>
<text x="876.60" y="1154.40" font-size="19.4" stroke="#000" stroke-width="0.35" textLength="38.4" lengthAdjust="spacingAndGlyphs" text-anchor="start" >0.00</text>
<text font-size="24.5" font-weight="bold" textLength="28.4" lengthAdjust="spacingAndGlyphs" transform="translate(25.00,1042.10) rotate(-90)" text-anchor="start" >Pi,</text>
<text font-size="24.5" font-weight="bold" textLength="54.4" lengthAdjust="spacingAndGlyphs" transform="translate(25.00,1006.60) rotate(-90)" text-anchor="start" >DOP,</text>
<text font-size="24.5" font-weight="bold" textLength="48.5" lengthAdjust="spacingAndGlyphs" transform="translate(25.00,945.80) rotate(-90)" text-anchor="start" >PPO</text>
<text font-size="17.64" font-weight="bold" textLength="9.6" lengthAdjust="spacingAndGlyphs" transform="translate(31.50,898.00) rotate(-90)" text-anchor="start" >4</text>
<text font-size="24.5" font-weight="bold" textLength="69.0" lengthAdjust="spacingAndGlyphs" transform="translate(25.00,883.30) rotate(-90)" text-anchor="start" >(µmol</text>
<text font-size="24.5" font-weight="bold" transform="translate(25.00,809.00) rotate(-90)" text-anchor="start" >l</text>
<text font-size="16.17" font-weight="bold" textLength="16.0" lengthAdjust="spacingAndGlyphs" transform="translate(16.80,803.30) rotate(-90)" text-anchor="start" >-1</text>
<text font-size="24.5" font-weight="bold" textLength="10.0" lengthAdjust="spacingAndGlyphs" transform="translate(25.00,787.70) rotate(-90)" text-anchor="start" >)</text>
<text font-size="23.45" font-weight="bold" textLength="59.0" lengthAdjust="spacingAndGlyphs" transform="translate(949.90,977.94) rotate(-90)" text-anchor="start" >DATP</text>
<text font-size="23.45" font-weight="bold" textLength="65.9" lengthAdjust="spacingAndGlyphs" transform="translate(949.90,916.27) rotate(-90)" text-anchor="start" >(nmol</text>
<text font-size="23.45" font-weight="bold" transform="translate(949.90,845.93) rotate(-90)" text-anchor="start" >l</text>
<text font-size="15.48" font-weight="bold" textLength="14.3" lengthAdjust="spacingAndGlyphs" transform="translate(941.99,838.30) rotate(-90)" text-anchor="start" >-1</text>
<text font-size="23.45" font-weight="bold" textLength="9.7" lengthAdjust="spacingAndGlyphs" transform="translate(949.90,824.70) rotate(-90)" text-anchor="start" >)</text>
<text x="493.40" y="1262.10" font-size="24.8" font-weight="bold" textLength="102.0" lengthAdjust="spacingAndGlyphs" text-anchor="middle" >Station #</text>
<text font-size="17" stroke="#000" stroke-width="0.35" textLength="54.0" lengthAdjust="spacingAndGlyphs" transform="translate(117.20,1164.30) rotate(-90)" text-anchor="end" >ALOHA</text>
<text font-size="15.7" stroke="#000" stroke-width="0.35" textLength="28.0" lengthAdjust="spacingAndGlyphs" transform="translate(170.64,1164.00) rotate(-90)" text-anchor="end" >127</text>
<text font-size="15.7" stroke="#000" stroke-width="0.35" textLength="28.0" lengthAdjust="spacingAndGlyphs" transform="translate(197.81,1164.00) rotate(-90)" text-anchor="end" >127</text>
<text font-size="15.7" stroke="#000" stroke-width="0.35" textLength="28.0" lengthAdjust="spacingAndGlyphs" transform="translate(224.99,1164.00) rotate(-90)" text-anchor="end" >127</text>
<text font-size="15.7" stroke="#000" stroke-width="0.35" textLength="28.0" lengthAdjust="spacingAndGlyphs" transform="translate(252.16,1164.00) rotate(-90)" text-anchor="end" >122</text>
<text font-size="15.7" stroke="#000" stroke-width="0.35" textLength="28.0" lengthAdjust="spacingAndGlyphs" transform="translate(279.34,1164.00) rotate(-90)" text-anchor="end" >110</text>
<text font-size="15.7" stroke="#000" stroke-width="0.35" textLength="28.0" lengthAdjust="spacingAndGlyphs" transform="translate(306.51,1164.00) rotate(-90)" text-anchor="end" >106</text>
<text font-size="15.7" stroke="#000" stroke-width="0.35" textLength="28.0" lengthAdjust="spacingAndGlyphs" transform="translate(333.69,1164.00) rotate(-90)" text-anchor="end" >102</text>
<text font-size="15.7" stroke="#000" stroke-width="0.35" textLength="28.0" lengthAdjust="spacingAndGlyphs" transform="translate(360.86,1164.00) rotate(-90)" text-anchor="end" >100</text>
<text font-size="15.7" stroke="#000" stroke-width="0.35" textLength="28.0" lengthAdjust="spacingAndGlyphs" transform="translate(388.04,1164.00) rotate(-90)" text-anchor="end" >100</text>
<text font-size="15.7" stroke="#000" stroke-width="0.35" textLength="28.0" lengthAdjust="spacingAndGlyphs" transform="translate(415.21,1164.00) rotate(-90)" text-anchor="end" >100</text>
<text font-size="15.7" stroke="#000" stroke-width="0.35" textLength="18.7" lengthAdjust="spacingAndGlyphs" transform="translate(442.39,1164.00) rotate(-90)" text-anchor="end" >98</text>
<text font-size="15.7" stroke="#000" stroke-width="0.35" textLength="18.7" lengthAdjust="spacingAndGlyphs" transform="translate(469.56,1164.00) rotate(-90)" text-anchor="end" >88</text>
<text font-size="15.7" stroke="#000" stroke-width="0.35" textLength="18.7" lengthAdjust="spacingAndGlyphs" transform="translate(496.74,1164.00) rotate(-90)" text-anchor="end" >84</text>
<text font-size="15.7" stroke="#000" stroke-width="0.35" textLength="18.7" lengthAdjust="spacingAndGlyphs" transform="translate(523.91,1164.00) rotate(-90)" text-anchor="end" >81</text>
<text font-size="15.7" stroke="#000" stroke-width="0.35" textLength="18.7" lengthAdjust="spacingAndGlyphs" transform="translate(551.09,1164.00) rotate(-90)" text-anchor="end" >69</text>
<text font-size="15.7" stroke="#000" stroke-width="0.35" textLength="18.7" lengthAdjust="spacingAndGlyphs" transform="translate(578.26,1164.00) rotate(-90)" text-anchor="end" >61</text>
<text font-size="15.7" stroke="#000" stroke-width="0.35" textLength="18.7" lengthAdjust="spacingAndGlyphs" transform="translate(605.44,1164.00) rotate(-90)" text-anchor="end" >53</text>
<text font-size="15.7" stroke="#000" stroke-width="0.35" textLength="18.7" lengthAdjust="spacingAndGlyphs" transform="translate(632.61,1164.00) rotate(-90)" text-anchor="end" >50</text>
<text font-size="15.7" stroke="#000" stroke-width="0.35" textLength="18.7" lengthAdjust="spacingAndGlyphs" transform="translate(659.79,1164.00) rotate(-90)" text-anchor="end" >46</text>
<text font-size="15.7" stroke="#000" stroke-width="0.35" textLength="18.7" lengthAdjust="spacingAndGlyphs" transform="translate(686.96,1164.00) rotate(-90)" text-anchor="end" >43</text>
<text font-size="15.7" stroke="#000" stroke-width="0.35" textLength="18.7" lengthAdjust="spacingAndGlyphs" transform="translate(714.14,1164.00) rotate(-90)" text-anchor="end" >39</text>
<text font-size="15.7" stroke="#000" stroke-width="0.35" textLength="18.7" lengthAdjust="spacingAndGlyphs" transform="translate(741.31,1164.00) rotate(-90)" text-anchor="end" >37</text>
<text font-size="15.7" stroke="#000" stroke-width="0.35" textLength="18.7" lengthAdjust="spacingAndGlyphs" transform="translate(768.49,1164.00) rotate(-90)" text-anchor="end" >20</text>
<text font-size="15.7" stroke="#000" stroke-width="0.35" textLength="18.7" lengthAdjust="spacingAndGlyphs" transform="translate(795.66,1164.00) rotate(-90)" text-anchor="end" >10</text>
<text font-size="15.7" stroke="#000" stroke-width="0.35" textLength="9.3" lengthAdjust="spacingAndGlyphs" transform="translate(822.84,1164.00) rotate(-90)" text-anchor="end" >4</text>
<text font-size="15.7" stroke="#000" stroke-width="0.35" textLength="9.3" lengthAdjust="spacingAndGlyphs" transform="translate(850.01,1164.00) rotate(-90)" text-anchor="end" >2</text>
<g filter="url(#sh)">
<line x1="106.00" y1="1099.00" x2="660.50" y2="1099.00" stroke="#000" stroke-width="2.7" />
<polyline points="114.00,1094.70 105.40,1099.00 114.00,1103.30" fill="none" stroke="#000" stroke-width="2.8" stroke-linecap="round" stroke-linejoin="round"/>
<polyline points="652.50,1094.70 661.10,1099.00 652.50,1103.30" fill="none" stroke="#000" stroke-width="2.8" stroke-linecap="round" stroke-linejoin="round"/>
</g>
<g filter="url(#sh)">
<line x1="670.50" y1="1097.60" x2="791.40" y2="1100.00" stroke="#000" stroke-width="2.7" />
<polyline points="678.50,1093.30 669.90,1097.60 678.50,1101.90" fill="none" stroke="#000" stroke-width="2.8" stroke-linecap="round" stroke-linejoin="round"/>
<polyline points="783.40,1095.70 792.00,1100.00 783.40,1104.30" fill="none" stroke="#000" stroke-width="2.8" stroke-linecap="round" stroke-linejoin="round"/>
</g>
<g filter="url(#sh)">
<line x1="798.00" y1="1101.00" x2="848.70" y2="1101.00" stroke="#000" stroke-width="2.7" />
<polyline points="806.00,1096.70 797.40,1101.00 806.00,1105.30" fill="none" stroke="#000" stroke-width="2.8" stroke-linecap="round" stroke-linejoin="round"/>
<polyline points="840.70,1096.70 849.30,1101.00 840.70,1105.30" fill="none" stroke="#000" stroke-width="2.8" stroke-linecap="round" stroke-linejoin="round"/>
</g>
<text x="399.60" y="1132.40" font-size="19.8" font-weight="bold" textLength="49.2" lengthAdjust="spacingAndGlyphs" text-anchor="middle" >NPSG</text>
<text x="734.00" y="1132.20" font-size="19.8" font-weight="bold" textLength="21.3" lengthAdjust="spacingAndGlyphs" text-anchor="middle" >TZ</text>
<text x="821.00" y="1132.20" font-size="19.8" font-weight="bold" textLength="32.0" lengthAdjust="spacingAndGlyphs" text-anchor="middle" >CCS</text>
<line x1="108.70" y1="770.70" x2="108.70" y2="793.70" stroke="#000" stroke-width="1.1" />
<line x1="108.70" y1="818.20" x2="108.70" y2="905.30" stroke="#000" stroke-width="1.1" />
<line x1="108.70" y1="956.70" x2="108.70" y2="1001.60" stroke="#000" stroke-width="1.1" />
<line x1="326.09" y1="978.50" x2="326.09" y2="997.20" stroke="#000" stroke-width="1.1" />
<line x1="380.44" y1="1002.20" x2="380.44" y2="1022.20" stroke="#000" stroke-width="1.1" />
<line x1="434.79" y1="967.30" x2="434.79" y2="1005.20" stroke="#000" stroke-width="1.1" />
<polyline points="163.04,914.80 190.21,879.30 217.39,863.40 244.56,850.10 271.74,809.70 298.91,833.60 326.09,986.70 353.26,990.50 380.44,1011.50 407.61,972.30 434.79,983.50 461.96,997.70 489.14,926.10 516.31,957.80 543.49,897.30 570.66,993.50 597.84,871.90 625.01,800.20 652.19,834.40 679.36,786.20 706.54,750.00 733.71,767.00 760.89,738.90 788.06,737.40 815.24,728.70 842.41,753.60" fill="none" stroke="#000" stroke-width="1.8" stroke-linejoin="round"/>
<circle cx="163.04" cy="914.80" r="5.6" fill="#000"/>
<circle cx="190.21" cy="879.30" r="5.6" fill="#000"/>
<circle cx="217.39" cy="863.40" r="5.6" fill="#000"/>
<circle cx="244.56" cy="850.10" r="5.6" fill="#000"/>
<circle cx="271.74" cy="809.70" r="5.6" fill="#000"/>
<circle cx="298.91" cy="833.60" r="5.6" fill="#000"/>
<circle cx="326.09" cy="986.70" r="5.6" fill="#000"/>
<circle cx="353.26" cy="990.50" r="5.6" fill="#000"/>
<circle cx="380.44" cy="1011.50" r="5.6" fill="#000"/>
<circle cx="407.61" cy="972.30" r="5.6" fill="#000"/>
<circle cx="434.79" cy="983.50" r="5.6" fill="#000"/>
<circle cx="461.96" cy="997.70" r="5.6" fill="#000"/>
<circle cx="489.14" cy="926.10" r="5.6" fill="#000"/>
<circle cx="516.31" cy="957.80" r="5.6" fill="#000"/>
<circle cx="543.49" cy="897.30" r="5.6" fill="#000"/>
<circle cx="570.66" cy="993.50" r="5.6" fill="#000"/>
<circle cx="597.84" cy="871.90" r="5.6" fill="#000"/>
<circle cx="625.01" cy="800.20" r="5.6" fill="#000"/>
<circle cx="652.19" cy="834.40" r="5.6" fill="#000"/>
<circle cx="679.36" cy="786.20" r="5.6" fill="#000"/>
<circle cx="706.54" cy="750.00" r="5.6" fill="#000"/>
<circle cx="733.71" cy="767.00" r="5.6" fill="#000"/>
<circle cx="760.89" cy="738.90" r="5.6" fill="#000"/>
<circle cx="788.06" cy="737.40" r="5.6" fill="#000"/>
<circle cx="815.24" cy="728.70" r="5.6" fill="#000"/>
<circle cx="842.41" cy="753.60" r="5.6" fill="#000"/>
<circle cx="163.04" cy="914.80" r="5.6" fill="none" stroke="#000" stroke-width="1.0"/>
<circle cx="190.21" cy="879.30" r="5.6" fill="none" stroke="#000" stroke-width="1.0"/>
<circle cx="217.39" cy="863.40" r="5.6" fill="none" stroke="#000" stroke-width="1.0"/>
<circle cx="244.56" cy="850.10" r="5.6" fill="none" stroke="#000" stroke-width="1.0"/>
<circle cx="271.74" cy="809.70" r="5.6" fill="none" stroke="#000" stroke-width="1.0"/>
<circle cx="298.91" cy="833.60" r="5.6" fill="none" stroke="#000" stroke-width="1.0"/>
<circle cx="326.09" cy="986.70" r="5.6" fill="none" stroke="#000" stroke-width="1.0"/>
<circle cx="353.26" cy="990.50" r="5.6" fill="none" stroke="#000" stroke-width="1.0"/>
<circle cx="380.44" cy="1011.50" r="5.6" fill="none" stroke="#000" stroke-width="1.0"/>
<circle cx="407.61" cy="972.30" r="5.6" fill="none" stroke="#000" stroke-width="1.0"/>
<circle cx="434.79" cy="983.50" r="5.6" fill="none" stroke="#000" stroke-width="1.0"/>
<circle cx="461.96" cy="997.70" r="5.6" fill="none" stroke="#000" stroke-width="1.0"/>
<circle cx="489.14" cy="926.10" r="5.6" fill="none" stroke="#000" stroke-width="1.0"/>
<circle cx="516.31" cy="957.80" r="5.6" fill="none" stroke="#000" stroke-width="1.0"/>
<circle cx="543.49" cy="897.30" r="5.6" fill="none" stroke="#000" stroke-width="1.0"/>
<circle cx="570.66" cy="993.50" r="5.6" fill="none" stroke="#000" stroke-width="1.0"/>
<circle cx="597.84" cy="871.90" r="5.6" fill="none" stroke="#000" stroke-width="1.0"/>
<circle cx="625.01" cy="800.20" r="5.6" fill="none" stroke="#000" stroke-width="1.0"/>
<circle cx="652.19" cy="834.40" r="5.6" fill="none" stroke="#000" stroke-width="1.0"/>
<circle cx="679.36" cy="786.20" r="5.6" fill="none" stroke="#000" stroke-width="1.0"/>
<circle cx="706.54" cy="750.00" r="5.6" fill="none" stroke="#000" stroke-width="1.0"/>
<circle cx="733.71" cy="767.00" r="5.6" fill="none" stroke="#000" stroke-width="1.0"/>
<circle cx="760.89" cy="738.90" r="5.6" fill="none" stroke="#000" stroke-width="1.0"/>
<circle cx="788.06" cy="737.40" r="5.6" fill="none" stroke="#000" stroke-width="1.0"/>
<circle cx="815.24" cy="728.70" r="5.6" fill="none" stroke="#000" stroke-width="1.0"/>
<circle cx="842.41" cy="753.60" r="5.6" fill="none" stroke="#000" stroke-width="1.0"/>
<circle cx="108.70" cy="848.60" r="5.6" fill="#000"/>
<circle cx="108.70" cy="848.60" r="5.6" fill="none" stroke="#000" stroke-width="1.0"/>
<polyline points="163.04,773.40 190.21,770.20 217.39,775.40 244.56,770.00 271.74,771.70 298.91,767.50 326.09,796.90 353.26,812.20 380.44,805.90 407.61,808.20 434.79,792.70 461.96,790.00 489.14,780.50 516.31,785.70 543.49,784.70 570.66,783.70 597.84,777.50 625.01,765.20 652.19,776.20 679.36,779.20 706.54,775.00 733.71,779.50 760.89,771.60 788.06,771.60 815.24,746.90 842.41,768.60" fill="none" stroke="#000" stroke-width="1.8" stroke-linejoin="round"/>
<circle cx="163.04" cy="773.40" r="6.25" fill="#fff"/>
<circle cx="190.21" cy="770.20" r="6.25" fill="#fff"/>
<circle cx="217.39" cy="775.40" r="6.25" fill="#fff"/>
<circle cx="244.56" cy="770.00" r="6.25" fill="#fff"/>
<circle cx="271.74" cy="771.70" r="6.25" fill="#fff"/>
<circle cx="298.91" cy="767.50" r="6.25" fill="#fff"/>
<circle cx="326.09" cy="796.90" r="6.25" fill="#fff"/>
<circle cx="353.26" cy="812.20" r="6.25" fill="#fff"/>
<circle cx="380.44" cy="805.90" r="6.25" fill="#fff"/>
<circle cx="407.61" cy="808.20" r="6.25" fill="#fff"/>
<circle cx="434.79" cy="792.70" r="6.25" fill="#fff"/>
<circle cx="461.96" cy="790.00" r="6.25" fill="#fff"/>
<circle cx="489.14" cy="780.50" r="6.25" fill="#fff"/>
<circle cx="516.31" cy="785.70" r="6.25" fill="#fff"/>
<circle cx="543.49" cy="784.70" r="6.25" fill="#fff"/>
<circle cx="570.66" cy="783.70" r="6.25" fill="#fff"/>
<circle cx="597.84" cy="777.50" r="6.25" fill="#fff"/>
<circle cx="625.01" cy="765.20" r="6.25" fill="#fff"/>
<circle cx="652.19" cy="776.20" r="6.25" fill="#fff"/>
<circle cx="679.36" cy="779.20" r="6.25" fill="#fff"/>
<circle cx="706.54" cy="775.00" r="6.25" fill="#fff"/>
<circle cx="733.71" cy="779.50" r="6.25" fill="#fff"/>
<circle cx="760.89" cy="771.60" r="6.25" fill="#fff"/>
<circle cx="788.06" cy="771.60" r="6.25" fill="#fff"/>
<circle cx="815.24" cy="746.90" r="6.25" fill="#fff"/>
<circle cx="842.41" cy="768.60" r="6.25" fill="#fff"/>
<circle cx="163.04" cy="773.40" r="6.25" fill="none" stroke="#000" stroke-width="1.3"/>
<circle cx="190.21" cy="770.20" r="6.25" fill="none" stroke="#000" stroke-width="1.3"/>
<circle cx="217.39" cy="775.40" r="6.25" fill="none" stroke="#000" stroke-width="1.3"/>
<circle cx="244.56" cy="770.00" r="6.25" fill="none" stroke="#000" stroke-width="1.3"/>
<circle cx="271.74" cy="771.70" r="6.25" fill="none" stroke="#000" stroke-width="1.3"/>
<circle cx="298.91" cy="767.50" r="6.25" fill="none" stroke="#000" stroke-width="1.3"/>
<circle cx="326.09" cy="796.90" r="6.25" fill="none" stroke="#000" stroke-width="1.3"/>
<circle cx="353.26" cy="812.20" r="6.25" fill="none" stroke="#000" stroke-width="1.3"/>
<circle cx="380.44" cy="805.90" r="6.25" fill="none" stroke="#000" stroke-width="1.3"/>
<circle cx="407.61" cy="808.20" r="6.25" fill="none" stroke="#000" stroke-width="1.3"/>
<circle cx="434.79" cy="792.70" r="6.25" fill="none" stroke="#000" stroke-width="1.3"/>
<circle cx="461.96" cy="790.00" r="6.25" fill="none" stroke="#000" stroke-width="1.3"/>
<circle cx="489.14" cy="780.50" r="6.25" fill="none" stroke="#000" stroke-width="1.3"/>
<circle cx="516.31" cy="785.70" r="6.25" fill="none" stroke="#000" stroke-width="1.3"/>
<circle cx="543.49" cy="784.70" r="6.25" fill="none" stroke="#000" stroke-width="1.3"/>
<circle cx="570.66" cy="783.70" r="6.25" fill="none" stroke="#000" stroke-width="1.3"/>
<circle cx="597.84" cy="777.50" r="6.25" fill="none" stroke="#000" stroke-width="1.3"/>
<circle cx="625.01" cy="765.20" r="6.25" fill="none" stroke="#000" stroke-width="1.3"/>
<circle cx="652.19" cy="776.20" r="6.25" fill="none" stroke="#000" stroke-width="1.3"/>
<circle cx="679.36" cy="779.20" r="6.25" fill="none" stroke="#000" stroke-width="1.3"/>
<circle cx="706.54" cy="775.00" r="6.25" fill="none" stroke="#000" stroke-width="1.3"/>
<circle cx="733.71" cy="779.50" r="6.25" fill="none" stroke="#000" stroke-width="1.3"/>
<circle cx="760.89" cy="771.60" r="6.25" fill="none" stroke="#000" stroke-width="1.3"/>
<circle cx="788.06" cy="771.60" r="6.25" fill="none" stroke="#000" stroke-width="1.3"/>
<circle cx="815.24" cy="746.90" r="6.25" fill="none" stroke="#000" stroke-width="1.3"/>
<circle cx="842.41" cy="768.60" r="6.25" fill="none" stroke="#000" stroke-width="1.3"/>
<circle cx="108.70" cy="781.30" r="5.4" fill="#fff"/>
<circle cx="108.70" cy="781.30" r="5.4" fill="none" stroke="#000" stroke-width="1.3"/>
<polyline points="163.04,926.30 190.21,929.80 217.39,926.80 244.56,900.80 271.74,935.50 298.91,938.00 326.09,941.30 353.26,936.60 380.44,944.30 407.61,946.30 434.79,939.80 461.96,934.80 489.14,951.50 516.31,935.60 543.49,921.30 570.66,946.80 597.84,922.30 625.01,938.80 652.19,951.00 679.36,921.60 706.54,955.00 733.71,938.00 760.89,914.00 788.06,925.70 815.24,837.60 842.41,842.00" fill="none" stroke="#000" stroke-width="1.8" stroke-linejoin="round"/>
<circle cx="163.04" cy="926.30" r="6.25" fill="#969696"/>
<circle cx="190.21" cy="929.80" r="6.25" fill="#969696"/>
<circle cx="217.39" cy="926.80" r="6.25" fill="#969696"/>
<circle cx="244.56" cy="900.80" r="6.25" fill="#969696"/>
<circle cx="271.74" cy="935.50" r="6.25" fill="#969696"/>
<circle cx="298.91" cy="938.00" r="6.25" fill="#969696"/>
<circle cx="326.09" cy="941.30" r="6.25" fill="#969696"/>
<circle cx="353.26" cy="936.60" r="6.25" fill="#969696"/>
<circle cx="380.44" cy="944.30" r="6.25" fill="#969696"/>
<circle cx="407.61" cy="946.30" r="6.25" fill="#969696"/>
<circle cx="434.79" cy="939.80" r="6.25" fill="#969696"/>
<circle cx="461.96" cy="934.80" r="6.25" fill="#969696"/>
<circle cx="489.14" cy="951.50" r="6.25" fill="#969696"/>
<circle cx="516.31" cy="935.60" r="6.25" fill="#969696"/>
<circle cx="543.49" cy="921.30" r="6.25" fill="#969696"/>
<circle cx="570.66" cy="946.80" r="6.25" fill="#969696"/>
<circle cx="597.84" cy="922.30" r="6.25" fill="#969696"/>
<circle cx="625.01" cy="938.80" r="6.25" fill="#969696"/>
<circle cx="652.19" cy="951.00" r="6.25" fill="#969696"/>
<circle cx="679.36" cy="921.60" r="6.25" fill="#969696"/>
<circle cx="706.54" cy="955.00" r="6.25" fill="#969696"/>
<circle cx="733.71" cy="938.00" r="6.25" fill="#969696"/>
<circle cx="760.89" cy="914.00" r="6.25" fill="#969696"/>
<circle cx="788.06" cy="925.70" r="6.25" fill="#969696"/>
<circle cx="815.24" cy="837.60" r="6.25" fill="#969696"/>
<circle cx="842.41" cy="842.00" r="6.25" fill="#969696"/>
<circle cx="163.04" cy="926.30" r="6.25" fill="none" stroke="#000" stroke-width="1.3"/>
<circle cx="190.21" cy="929.80" r="6.25" fill="none" stroke="#000" stroke-width="1.3"/>
<circle cx="217.39" cy="926.80" r="6.25" fill="none" stroke="#000" stroke-width="1.3"/>
<circle cx="244.56" cy="900.80" r="6.25" fill="none" stroke="#000" stroke-width="1.3"/>
<circle cx="271.74" cy="935.50" r="6.25" fill="none" stroke="#000" stroke-width="1.3"/>
<circle cx="298.91" cy="938.00" r="6.25" fill="none" stroke="#000" stroke-width="1.3"/>
<circle cx="326.09" cy="941.30" r="6.25" fill="none" stroke="#000" stroke-width="1.3"/>
<circle cx="353.26" cy="936.60" r="6.25" fill="none" stroke="#000" stroke-width="1.3"/>
<circle cx="380.44" cy="944.30" r="6.25" fill="none" stroke="#000" stroke-width="1.3"/>
<circle cx="407.61" cy="946.30" r="6.25" fill="none" stroke="#000" stroke-width="1.3"/>
<circle cx="434.79" cy="939.80" r="6.25" fill="none" stroke="#000" stroke-width="1.3"/>
<circle cx="461.96" cy="934.80" r="6.25" fill="none" stroke="#000" stroke-width="1.3"/>
<circle cx="489.14" cy="951.50" r="6.25" fill="none" stroke="#000" stroke-width="1.3"/>
<circle cx="516.31" cy="935.60" r="6.25" fill="none" stroke="#000" stroke-width="1.3"/>
<circle cx="543.49" cy="921.30" r="6.25" fill="none" stroke="#000" stroke-width="1.3"/>
<circle cx="570.66" cy="946.80" r="6.25" fill="none" stroke="#000" stroke-width="1.3"/>
<circle cx="597.84" cy="922.30" r="6.25" fill="none" stroke="#000" stroke-width="1.3"/>
<circle cx="625.01" cy="938.80" r="6.25" fill="none" stroke="#000" stroke-width="1.3"/>
<circle cx="652.19" cy="951.00" r="6.25" fill="none" stroke="#000" stroke-width="1.3"/>
<circle cx="679.36" cy="921.60" r="6.25" fill="none" stroke="#000" stroke-width="1.3"/>
<circle cx="706.54" cy="955.00" r="6.25" fill="none" stroke="#000" stroke-width="1.3"/>
<circle cx="733.71" cy="938.00" r="6.25" fill="none" stroke="#000" stroke-width="1.3"/>
<circle cx="760.89" cy="914.00" r="6.25" fill="none" stroke="#000" stroke-width="1.3"/>
<circle cx="788.06" cy="925.70" r="6.25" fill="none" stroke="#000" stroke-width="1.3"/>
<circle cx="815.24" cy="837.60" r="6.25" fill="none" stroke="#000" stroke-width="1.3"/>
<circle cx="842.41" cy="842.00" r="6.25" fill="none" stroke="#000" stroke-width="1.3"/>
<circle cx="108.70" cy="974.90" r="6.25" fill="#969696"/>
<circle cx="108.70" cy="974.90" r="6.25" fill="none" stroke="#000" stroke-width="1.3"/>
<line x1="353.26" y1="925.30" x2="353.26" y2="946.00" stroke="#000" stroke-width="1.1" />
<line x1="380.44" y1="945.30" x2="380.44" y2="982.80" stroke="#000" stroke-width="1.1" />
<line x1="489.14" y1="948.50" x2="489.14" y2="1031.50" stroke="#000" stroke-width="1.1" />
<line x1="516.31" y1="839.90" x2="516.31" y2="874.90" stroke="#000" stroke-width="1.1" />
<line x1="543.49" y1="874.90" x2="543.49" y2="890.00" stroke="#000" stroke-width="1.1" />
<line x1="597.84" y1="819.50" x2="597.84" y2="838.00" stroke="#000" stroke-width="1.1" />
<line x1="625.01" y1="817.50" x2="625.01" y2="835.50" stroke="#000" stroke-width="1.1" />
<line x1="679.36" y1="869.00" x2="679.36" y2="887.00" stroke="#000" stroke-width="1.1" />
<line x1="706.54" y1="817.40" x2="706.54" y2="852.90" stroke="#000" stroke-width="1.1" />
<line x1="760.89" y1="813.20" x2="760.89" y2="844.40" stroke="#000" stroke-width="1.1" />
<polyline points="271.74,775.30 298.91,829.30" fill="none" stroke="#1a1a1a" stroke-width="1.15" stroke-linejoin="round"/>
<polyline points="353.26,935.80 380.44,962.30 407.61,878.00 434.79,1049.90 461.96,1049.90 489.14,977.80 516.31,855.90 543.49,882.60 570.66,1061.40 597.84,829.70 625.01,826.20 652.19,826.70 679.36,877.70 706.54,833.70 733.71,827.40 760.89,827.40 788.06,827.30 815.24,796.70 842.41,783.60" fill="none" stroke="#1a1a1a" stroke-width="1.15" stroke-linejoin="round"/>
<polygon points="108.70,827.03 115.30,840.53 102.10,840.53" fill="#fff" stroke="#000" stroke-width="1.2" stroke-linejoin="miter"/>
<polygon points="163.04,817.03 169.64,830.53 156.44,830.53" fill="#fff" stroke="#000" stroke-width="1.2" stroke-linejoin="miter"/>
<polygon points="271.74,768.93 278.34,782.43 265.14,782.43" fill="#fff" stroke="#000" stroke-width="1.2" stroke-linejoin="miter"/>
<polygon points="298.91,822.93 305.51,836.43 292.31,836.43" fill="#fff" stroke="#000" stroke-width="1.2" stroke-linejoin="miter"/>
<polygon points="353.26,929.43 359.86,942.93 346.66,942.93" fill="#fff" stroke="#000" stroke-width="1.2" stroke-linejoin="miter"/>
<polygon points="380.44,955.93 387.04,969.43 373.84,969.43" fill="#fff" stroke="#000" stroke-width="1.2" stroke-linejoin="miter"/>
<polygon points="407.61,871.63 414.21,885.13 401.01,885.13" fill="#fff" stroke="#000" stroke-width="1.2" stroke-linejoin="miter"/>
<polygon points="434.79,1043.53 441.39,1057.03 428.19,1057.03" fill="#b8b8b8" stroke="#000" stroke-width="1.2" stroke-linejoin="miter"/>
<polygon points="461.96,1043.53 468.56,1057.03 455.36,1057.03" fill="#b8b8b8" stroke="#000" stroke-width="1.2" stroke-linejoin="miter"/>
<polygon points="489.14,971.43 495.74,984.93 482.54,984.93" fill="#fff" stroke="#000" stroke-width="1.2" stroke-linejoin="miter"/>
<polygon points="516.31,849.53 522.91,863.03 509.71,863.03" fill="#fff" stroke="#000" stroke-width="1.2" stroke-linejoin="miter"/>
<polygon points="543.49,876.23 550.09,889.73 536.89,889.73" fill="#fff" stroke="#000" stroke-width="1.2" stroke-linejoin="miter"/>
<polygon points="570.66,1055.03 577.26,1068.53 564.06,1068.53" fill="#b8b8b8" stroke="#000" stroke-width="1.2" stroke-linejoin="miter"/>
<polygon points="597.84,823.33 604.44,836.83 591.24,836.83" fill="#fff" stroke="#000" stroke-width="1.2" stroke-linejoin="miter"/>
<polygon points="625.01,819.83 631.61,833.33 618.41,833.33" fill="#fff" stroke="#000" stroke-width="1.2" stroke-linejoin="miter"/>
<polygon points="652.19,820.33 658.79,833.83 645.59,833.83" fill="#fff" stroke="#000" stroke-width="1.2" stroke-linejoin="miter"/>
<polygon points="679.36,871.33 685.96,884.83 672.76,884.83" fill="#fff" stroke="#000" stroke-width="1.2" stroke-linejoin="miter"/>
<polygon points="706.54,827.33 713.14,840.83 699.94,840.83" fill="#fff" stroke="#000" stroke-width="1.2" stroke-linejoin="miter"/>
<polygon points="733.71,821.03 740.31,834.53 727.11,834.53" fill="#fff" stroke="#000" stroke-width="1.2" stroke-linejoin="miter"/>
<polygon points="760.89,821.03 767.49,834.53 754.29,834.53" fill="#fff" stroke="#000" stroke-width="1.2" stroke-linejoin="miter"/>
<polygon points="788.06,820.93 794.66,834.43 781.46,834.43" fill="#fff" stroke="#000" stroke-width="1.2" stroke-linejoin="miter"/>
<polygon points="815.24,790.33 821.84,803.83 808.64,803.83" fill="#fff" stroke="#000" stroke-width="1.2" stroke-linejoin="miter"/>
<polygon points="842.41,777.23 849.01,790.73 835.81,790.73" fill="#fff" stroke="#000" stroke-width="1.2" stroke-linejoin="miter"/>
<line x1="91.50" y1="1315.10" x2="91.50" y2="1864.90" stroke="#222" stroke-width="1.4" />
<line x1="854.30" y1="1315.10" x2="854.30" y2="1864.90" stroke="#222" stroke-width="1.4" />
<line x1="84.30" y1="1858.40" x2="861.00" y2="1858.40" stroke="#222" stroke-width="1.4" />
<line x1="91.50" y1="1496.60" x2="84.30" y2="1496.60" stroke="#222" stroke-width="1.3" />
<line x1="91.50" y1="1442.14" x2="86.20" y2="1442.14" stroke="#222" stroke-width="1.3" />
<line x1="91.50" y1="1410.29" x2="86.20" y2="1410.29" stroke="#222" stroke-width="1.3" />
<line x1="91.50" y1="1387.69" x2="86.20" y2="1387.69" stroke="#222" stroke-width="1.3" />
<line x1="91.50" y1="1370.16" x2="86.20" y2="1370.16" stroke="#222" stroke-width="1.3" />
<line x1="91.50" y1="1355.83" x2="86.20" y2="1355.83" stroke="#222" stroke-width="1.3" />
<line x1="91.50" y1="1343.72" x2="86.20" y2="1343.72" stroke="#222" stroke-width="1.3" />
<line x1="91.50" y1="1333.23" x2="86.20" y2="1333.23" stroke="#222" stroke-width="1.3" />
<line x1="91.50" y1="1323.98" x2="86.20" y2="1323.98" stroke="#222" stroke-width="1.3" />
<line x1="91.50" y1="1677.50" x2="84.30" y2="1677.50" stroke="#222" stroke-width="1.3" />
<line x1="91.50" y1="1623.04" x2="86.20" y2="1623.04" stroke="#222" stroke-width="1.3" />
<line x1="91.50" y1="1591.19" x2="86.20" y2="1591.19" stroke="#222" stroke-width="1.3" />
<line x1="91.50" y1="1568.59" x2="86.20" y2="1568.59" stroke="#222" stroke-width="1.3" />
<line x1="91.50" y1="1551.06" x2="86.20" y2="1551.06" stroke="#222" stroke-width="1.3" />
<line x1="91.50" y1="1536.73" x2="86.20" y2="1536.73" stroke="#222" stroke-width="1.3" />
<line x1="91.50" y1="1524.62" x2="86.20" y2="1524.62" stroke="#222" stroke-width="1.3" />
<line x1="91.50" y1="1514.13" x2="86.20" y2="1514.13" stroke="#222" stroke-width="1.3" />
<line x1="91.50" y1="1504.88" x2="86.20" y2="1504.88" stroke="#222" stroke-width="1.3" />
<line x1="91.50" y1="1858.40" x2="84.30" y2="1858.40" stroke="#222" stroke-width="1.3" />
<line x1="91.50" y1="1803.94" x2="86.20" y2="1803.94" stroke="#222" stroke-width="1.3" />
<line x1="91.50" y1="1772.09" x2="86.20" y2="1772.09" stroke="#222" stroke-width="1.3" />
<line x1="91.50" y1="1749.49" x2="86.20" y2="1749.49" stroke="#222" stroke-width="1.3" />
<line x1="91.50" y1="1731.96" x2="86.20" y2="1731.96" stroke="#222" stroke-width="1.3" />
<line x1="91.50" y1="1717.63" x2="86.20" y2="1717.63" stroke="#222" stroke-width="1.3" />
<line x1="91.50" y1="1705.52" x2="86.20" y2="1705.52" stroke="#222" stroke-width="1.3" />
<line x1="91.50" y1="1695.03" x2="86.20" y2="1695.03" stroke="#222" stroke-width="1.3" />
<line x1="91.50" y1="1685.78" x2="86.20" y2="1685.78" stroke="#222" stroke-width="1.3" />
<line x1="91.50" y1="1315.70" x2="84.30" y2="1315.70" stroke="#222" stroke-width="1.3" />
<line x1="854.30" y1="1587.05" x2="861.00" y2="1587.05" stroke="#222" stroke-width="1.3" />
<line x1="854.30" y1="1505.37" x2="859.10" y2="1505.37" stroke="#222" stroke-width="1.3" />
<line x1="854.30" y1="1457.58" x2="859.10" y2="1457.58" stroke="#222" stroke-width="1.3" />
<line x1="854.30" y1="1423.68" x2="859.10" y2="1423.68" stroke="#222" stroke-width="1.3" />
<line x1="854.30" y1="1397.38" x2="859.10" y2="1397.38" stroke="#222" stroke-width="1.3" />
<line x1="854.30" y1="1375.90" x2="859.10" y2="1375.90" stroke="#222" stroke-width="1.3" />
<line x1="854.30" y1="1357.73" x2="859.10" y2="1357.73" stroke="#222" stroke-width="1.3" />
<line x1="854.30" y1="1342.00" x2="859.10" y2="1342.00" stroke="#222" stroke-width="1.3" />
<line x1="854.30" y1="1328.12" x2="859.10" y2="1328.12" stroke="#222" stroke-width="1.3" />
<line x1="854.30" y1="1858.40" x2="861.00" y2="1858.40" stroke="#222" stroke-width="1.3" />
<line x1="854.30" y1="1776.72" x2="859.10" y2="1776.72" stroke="#222" stroke-width="1.3" />
<line x1="854.30" y1="1728.93" x2="859.10" y2="1728.93" stroke="#222" stroke-width="1.3" />
<line x1="854.30" y1="1695.03" x2="859.10" y2="1695.03" stroke="#222" stroke-width="1.3" />
<line x1="854.30" y1="1668.73" x2="859.10" y2="1668.73" stroke="#222" stroke-width="1.3" />
<line x1="854.30" y1="1647.25" x2="859.10" y2="1647.25" stroke="#222" stroke-width="1.3" />
<line x1="854.30" y1="1629.08" x2="859.10" y2="1629.08" stroke="#222" stroke-width="1.3" />
<line x1="854.30" y1="1613.35" x2="859.10" y2="1613.35" stroke="#222" stroke-width="1.3" />
<line x1="854.30" y1="1599.47" x2="859.10" y2="1599.47" stroke="#222" stroke-width="1.3" />
<line x1="854.30" y1="1315.70" x2="861.00" y2="1315.70" stroke="#222" stroke-width="1.3" />
<line x1="91.50" y1="1858.40" x2="91.50" y2="1864.90" stroke="#222" stroke-width="1.3" />
<text x="91.50" y="1900.90" font-size="19.4" stroke="#000" stroke-width="0.35" textLength="21.5" lengthAdjust="spacingAndGlyphs" text-anchor="middle" >22</text>
<line x1="186.85" y1="1858.40" x2="186.85" y2="1864.90" stroke="#222" stroke-width="1.3" />
<text x="186.85" y="1900.90" font-size="19.4" stroke="#000" stroke-width="0.35" textLength="21.5" lengthAdjust="spacingAndGlyphs" text-anchor="middle" >24</text>
<line x1="282.20" y1="1858.40" x2="282.20" y2="1864.90" stroke="#222" stroke-width="1.3" />
<text x="282.20" y="1900.90" font-size="19.4" stroke="#000" stroke-width="0.35" textLength="21.5" lengthAdjust="spacingAndGlyphs" text-anchor="middle" >26</text>
<line x1="377.55" y1="1858.40" x2="377.55" y2="1864.90" stroke="#222" stroke-width="1.3" />
<text x="377.55" y="1900.90" font-size="19.4" stroke="#000" stroke-width="0.35" textLength="21.5" lengthAdjust="spacingAndGlyphs" text-anchor="middle" >28</text>
<line x1="472.90" y1="1858.40" x2="472.90" y2="1864.90" stroke="#222" stroke-width="1.3" />
<text x="472.90" y="1900.90" font-size="19.4" stroke="#000" stroke-width="0.35" textLength="21.5" lengthAdjust="spacingAndGlyphs" text-anchor="middle" >30</text>
<line x1="568.25" y1="1858.40" x2="568.25" y2="1864.90" stroke="#222" stroke-width="1.3" />
<text x="568.25" y="1900.90" font-size="19.4" stroke="#000" stroke-width="0.35" textLength="21.5" lengthAdjust="spacingAndGlyphs" text-anchor="middle" >32</text>
<line x1="663.60" y1="1858.40" x2="663.60" y2="1864.90" stroke="#222" stroke-width="1.3" />
<text x="663.60" y="1900.90" font-size="19.4" stroke="#000" stroke-width="0.35" textLength="21.5" lengthAdjust="spacingAndGlyphs" text-anchor="middle" >34</text>
<line x1="758.95" y1="1858.40" x2="758.95" y2="1864.90" stroke="#222" stroke-width="1.3" />
<text x="758.95" y="1900.90" font-size="19.4" stroke="#000" stroke-width="0.35" textLength="21.5" lengthAdjust="spacingAndGlyphs" text-anchor="middle" >36</text>
<line x1="854.30" y1="1858.40" x2="854.30" y2="1864.90" stroke="#222" stroke-width="1.3" />
<text x="854.30" y="1900.90" font-size="19.4" stroke="#000" stroke-width="0.35" textLength="21.5" lengthAdjust="spacingAndGlyphs" text-anchor="middle" >38</text>
<text x="2.00" y="1299.00" font-size="35.5" font-weight="bold" textLength="24.6" lengthAdjust="spacingAndGlyphs" text-anchor="start" >C</text>
<text x="32.00" y="1323.90" font-size="19.4" stroke="#000" stroke-width="0.35" textLength="38.6" lengthAdjust="spacingAndGlyphs" text-anchor="start" >1.00</text>
<text x="32.00" y="1504.80" font-size="19.4" stroke="#000" stroke-width="0.35" textLength="38.6" lengthAdjust="spacingAndGlyphs" text-anchor="start" >0.10</text>
<text x="32.00" y="1685.70" font-size="19.4" stroke="#000" stroke-width="0.35" textLength="38.6" lengthAdjust="spacingAndGlyphs" text-anchor="start" >0.01</text>
<text x="32.00" y="1866.60" font-size="19.4" stroke="#000" stroke-width="0.35" textLength="38.6" lengthAdjust="spacingAndGlyphs" text-anchor="start" >0.00</text>
<text x="874.70" y="1324.80" font-size="19.4" stroke="#000" stroke-width="0.35" textLength="39.0" lengthAdjust="spacingAndGlyphs" text-anchor="start" >1.00</text>
<text x="874.70" y="1596.15" font-size="19.4" stroke="#000" stroke-width="0.35" textLength="39.0" lengthAdjust="spacingAndGlyphs" text-anchor="start" >0.10</text>
<text x="874.70" y="1867.50" font-size="19.4" stroke="#000" stroke-width="0.35" textLength="39.0" lengthAdjust="spacingAndGlyphs" text-anchor="start" >0.01</text>
<text font-size="24.5" font-weight="bold" textLength="28.4" lengthAdjust="spacingAndGlyphs" transform="translate(23.00,1713.40) rotate(-90)" text-anchor="start" >Pi,</text>
<text font-size="24.5" font-weight="bold" textLength="54.4" lengthAdjust="spacingAndGlyphs" transform="translate(23.00,1677.90) rotate(-90)" text-anchor="start" >DOP,</text>
<text font-size="24.5" font-weight="bold" textLength="48.5" lengthAdjust="spacingAndGlyphs" transform="translate(23.00,1617.10) rotate(-90)" text-anchor="start" >PPO</text>
<text font-size="17.64" font-weight="bold" textLength="9.6" lengthAdjust="spacingAndGlyphs" transform="translate(29.50,1569.30) rotate(-90)" text-anchor="start" >4</text>
<text font-size="24.5" font-weight="bold" textLength="69.0" lengthAdjust="spacingAndGlyphs" transform="translate(23.00,1554.60) rotate(-90)" text-anchor="start" >(µmol</text>
<text font-size="24.5" font-weight="bold" transform="translate(23.00,1480.30) rotate(-90)" text-anchor="start" >l</text>
<text font-size="16.17" font-weight="bold" textLength="16.0" lengthAdjust="spacingAndGlyphs" transform="translate(14.80,1474.60) rotate(-90)" text-anchor="start" >-1</text>
<text font-size="24.5" font-weight="bold" textLength="10.0" lengthAdjust="spacingAndGlyphs" transform="translate(23.00,1459.00) rotate(-90)" text-anchor="start" >)</text>
<text font-size="23.81" font-weight="bold" textLength="59.9" lengthAdjust="spacingAndGlyphs" transform="translate(952.00,1670.26) rotate(-90)" text-anchor="start" >DATP</text>
<text font-size="23.81" font-weight="bold" textLength="66.9" lengthAdjust="spacingAndGlyphs" transform="translate(952.00,1607.64) rotate(-90)" text-anchor="start" >(nmol</text>
<text font-size="23.81" font-weight="bold" transform="translate(952.00,1536.20) rotate(-90)" text-anchor="start" >l</text>
<text font-size="15.72" font-weight="bold" textLength="14.5" lengthAdjust="spacingAndGlyphs" transform="translate(943.96,1528.46) rotate(-90)" text-anchor="start" >-1</text>
<text font-size="23.81" font-weight="bold" textLength="9.8" lengthAdjust="spacingAndGlyphs" transform="translate(952.00,1514.64) rotate(-90)" text-anchor="start" >)</text>
<text x="472.60" y="1943.40" font-size="24" font-weight="bold" textLength="145.0" lengthAdjust="spacingAndGlyphs" text-anchor="middle" >Latitude (˚N)</text>
<g filter="url(#sh)">
<line x1="101.00" y1="1805.00" x2="526.30" y2="1805.00" stroke="#000" stroke-width="2.7" />
<polyline points="109.00,1800.70 100.40,1805.00 109.00,1809.30" fill="none" stroke="#000" stroke-width="2.8" stroke-linecap="round" stroke-linejoin="round"/>
<polyline points="518.30,1800.70 526.90,1805.00 518.30,1809.30" fill="none" stroke="#000" stroke-width="2.8" stroke-linecap="round" stroke-linejoin="round"/>
</g>
<g filter="url(#sh)">
<line x1="533.60" y1="1805.60" x2="834.00" y2="1802.60" stroke="#000" stroke-width="2.7" />
<polyline points="541.60,1801.30 533.00,1805.60 541.60,1809.90" fill="none" stroke="#000" stroke-width="2.8" stroke-linecap="round" stroke-linejoin="round"/>
<polyline points="826.00,1798.30 834.60,1802.60 826.00,1806.90" fill="none" stroke="#000" stroke-width="2.8" stroke-linecap="round" stroke-linejoin="round"/>
</g>
<text x="326.70" y="1838.00" font-size="19.8" font-weight="bold" textLength="49.0" lengthAdjust="spacingAndGlyphs" text-anchor="middle" >NPSG</text>
<text x="684.30" y="1833.40" font-size="19.8" font-weight="bold" textLength="21.0" lengthAdjust="spacingAndGlyphs" text-anchor="middle" >TZ</text>
<line x1="127.30" y1="1436.20" x2="127.30" y2="1462.50" stroke="#000" stroke-width="1.2" />
<line x1="127.30" y1="1489.90" x2="127.30" y2="1625.30" stroke="#000" stroke-width="1.2" />
<line x1="127.30" y1="1645.30" x2="127.30" y2="1696.00" stroke="#000" stroke-width="1.2" />
<line x1="595.70" y1="1461.10" x2="595.70" y2="1477.40" stroke="#000" stroke-width="1.1" />
<polyline points="162.90,1528.10 296.30,1570.10 384.20,1551.90 446.40,1549.10 458.60,1564.10 595.70,1508.10 620.40,1464.40 665.90,1428.20 733.60,1395.50 761.30,1410.90 785.90,1372.90 820.90,1370.40" fill="none" stroke="#000" stroke-width="1.7" stroke-linejoin="round"/>
<circle cx="162.90" cy="1528.10" r="6.25" fill="#000"/>
<circle cx="296.30" cy="1570.10" r="6.25" fill="#000"/>
<circle cx="384.20" cy="1551.90" r="6.25" fill="#000"/>
<circle cx="446.40" cy="1549.10" r="6.25" fill="#000"/>
<circle cx="458.60" cy="1564.10" r="6.25" fill="#000"/>
<circle cx="595.70" cy="1508.10" r="6.25" fill="#000"/>
<circle cx="620.40" cy="1464.40" r="6.25" fill="#000"/>
<circle cx="665.90" cy="1428.20" r="6.25" fill="#000"/>
<circle cx="733.60" cy="1395.50" r="6.25" fill="#000"/>
<circle cx="761.30" cy="1410.90" r="6.25" fill="#000"/>
<circle cx="785.90" cy="1372.90" r="6.25" fill="#000"/>
<circle cx="820.90" cy="1370.40" r="6.25" fill="#000"/>
<circle cx="162.90" cy="1528.10" r="6.25" fill="none" stroke="#000" stroke-width="1.0"/>
<circle cx="296.30" cy="1570.10" r="6.25" fill="none" stroke="#000" stroke-width="1.0"/>
<circle cx="384.20" cy="1551.90" r="6.25" fill="none" stroke="#000" stroke-width="1.0"/>
<circle cx="446.40" cy="1549.10" r="6.25" fill="none" stroke="#000" stroke-width="1.0"/>
<circle cx="458.60" cy="1564.10" r="6.25" fill="none" stroke="#000" stroke-width="1.0"/>
<circle cx="595.70" cy="1508.10" r="6.25" fill="none" stroke="#000" stroke-width="1.0"/>
<circle cx="620.40" cy="1464.40" r="6.25" fill="none" stroke="#000" stroke-width="1.0"/>
<circle cx="665.90" cy="1428.20" r="6.25" fill="none" stroke="#000" stroke-width="1.0"/>
<circle cx="733.60" cy="1395.50" r="6.25" fill="none" stroke="#000" stroke-width="1.0"/>
<circle cx="761.30" cy="1410.90" r="6.25" fill="none" stroke="#000" stroke-width="1.0"/>
<circle cx="785.90" cy="1372.90" r="6.25" fill="none" stroke="#000" stroke-width="1.0"/>
<circle cx="820.90" cy="1370.40" r="6.25" fill="none" stroke="#000" stroke-width="1.0"/>
<circle cx="127.30" cy="1524.10" r="6.25" fill="#000"/>
<circle cx="127.30" cy="1524.10" r="6.25" fill="none" stroke="#000" stroke-width="1.0"/>
<polyline points="162.90,1455.00 296.30,1470.00 384.20,1479.90 446.40,1480.20 458.60,1480.70 595.70,1468.90 620.40,1468.90 665.90,1485.40 733.60,1483.00 761.30,1478.60 785.90,1486.60 820.90,1474.80" fill="none" stroke="#000" stroke-width="1.7" stroke-linejoin="round"/>
<circle cx="162.90" cy="1455.00" r="6.25" fill="#fff"/>
<circle cx="296.30" cy="1470.00" r="6.25" fill="#fff"/>
<circle cx="384.20" cy="1479.90" r="6.25" fill="#fff"/>
<circle cx="446.40" cy="1480.20" r="6.25" fill="#fff"/>
<circle cx="458.60" cy="1480.70" r="6.25" fill="#fff"/>
<circle cx="595.70" cy="1468.90" r="6.25" fill="#fff"/>
<circle cx="620.40" cy="1468.90" r="6.25" fill="#fff"/>
<circle cx="665.90" cy="1485.40" r="6.25" fill="#fff"/>
<circle cx="733.60" cy="1483.00" r="6.25" fill="#fff"/>
<circle cx="761.30" cy="1478.60" r="6.25" fill="#fff"/>
<circle cx="785.90" cy="1486.60" r="6.25" fill="#fff"/>
<circle cx="820.90" cy="1474.80" r="6.25" fill="#fff"/>
<circle cx="162.90" cy="1455.00" r="6.25" fill="none" stroke="#000" stroke-width="1.5"/>
<circle cx="296.30" cy="1470.00" r="6.25" fill="none" stroke="#000" stroke-width="1.5"/>
<circle cx="384.20" cy="1479.90" r="6.25" fill="none" stroke="#000" stroke-width="1.5"/>
<circle cx="446.40" cy="1480.20" r="6.25" fill="none" stroke="#000" stroke-width="1.5"/>
<circle cx="458.60" cy="1480.70" r="6.25" fill="none" stroke="#000" stroke-width="1.5"/>
<circle cx="595.70" cy="1468.90" r="6.25" fill="none" stroke="#000" stroke-width="1.5"/>
<circle cx="620.40" cy="1468.90" r="6.25" fill="none" stroke="#000" stroke-width="1.5"/>
<circle cx="665.90" cy="1485.40" r="6.25" fill="none" stroke="#000" stroke-width="1.5"/>
<circle cx="733.60" cy="1483.00" r="6.25" fill="none" stroke="#000" stroke-width="1.5"/>
<circle cx="761.30" cy="1478.60" r="6.25" fill="none" stroke="#000" stroke-width="1.5"/>
<circle cx="785.90" cy="1486.60" r="6.25" fill="none" stroke="#000" stroke-width="1.5"/>
<circle cx="820.90" cy="1474.80" r="6.25" fill="none" stroke="#000" stroke-width="1.5"/>
<circle cx="127.30" cy="1448.60" r="6.25" fill="#fff"/>
<circle cx="127.30" cy="1448.60" r="6.25" fill="none" stroke="#000" stroke-width="1.5"/>
<polyline points="162.90,1620.50 296.30,1615.80 384.20,1624.80 446.40,1627.30 458.60,1610.30 595.70,1573.50 620.40,1545.50 665.90,1576.50 733.60,1527.50 761.30,1561.10 785.90,1591.70 820.90,1561.50" fill="none" stroke="#000" stroke-width="1.7" stroke-linejoin="round"/>
<circle cx="162.90" cy="1620.50" r="6.25" fill="#969696"/>
<circle cx="296.30" cy="1615.80" r="6.25" fill="#969696"/>
<circle cx="384.20" cy="1624.80" r="6.25" fill="#969696"/>
<circle cx="446.40" cy="1627.30" r="6.25" fill="#969696"/>
<circle cx="458.60" cy="1610.30" r="6.25" fill="#969696"/>
<circle cx="595.70" cy="1573.50" r="6.25" fill="#969696"/>
<circle cx="620.40" cy="1545.50" r="6.25" fill="#969696"/>
<circle cx="665.90" cy="1576.50" r="6.25" fill="#969696"/>
<circle cx="733.60" cy="1527.50" r="6.25" fill="#969696"/>
<circle cx="761.30" cy="1561.10" r="6.25" fill="#969696"/>
<circle cx="785.90" cy="1591.70" r="6.25" fill="#969696"/>
<circle cx="820.90" cy="1561.50" r="6.25" fill="#969696"/>
<circle cx="162.90" cy="1620.50" r="6.25" fill="none" stroke="#000" stroke-width="1.5"/>
<circle cx="296.30" cy="1615.80" r="6.25" fill="none" stroke="#000" stroke-width="1.5"/>
<circle cx="384.20" cy="1624.80" r="6.25" fill="none" stroke="#000" stroke-width="1.5"/>
<circle cx="446.40" cy="1627.30" r="6.25" fill="none" stroke="#000" stroke-width="1.5"/>
<circle cx="458.60" cy="1610.30" r="6.25" fill="none" stroke="#000" stroke-width="1.5"/>
<circle cx="595.70" cy="1573.50" r="6.25" fill="none" stroke="#000" stroke-width="1.5"/>
<circle cx="620.40" cy="1545.50" r="6.25" fill="none" stroke="#000" stroke-width="1.5"/>
<circle cx="665.90" cy="1576.50" r="6.25" fill="none" stroke="#000" stroke-width="1.5"/>
<circle cx="733.60" cy="1527.50" r="6.25" fill="none" stroke="#000" stroke-width="1.5"/>
<circle cx="761.30" cy="1561.10" r="6.25" fill="none" stroke="#000" stroke-width="1.5"/>
<circle cx="785.90" cy="1591.70" r="6.25" fill="none" stroke="#000" stroke-width="1.5"/>
<circle cx="820.90" cy="1561.50" r="6.25" fill="none" stroke="#000" stroke-width="1.5"/>
<circle cx="127.30" cy="1666.50" r="6.25" fill="#969696"/>
<circle cx="127.30" cy="1666.50" r="6.25" fill="none" stroke="#000" stroke-width="1.5"/>
<line x1="296.30" y1="1652.80" x2="296.30" y2="1678.00" stroke="#000" stroke-width="1.2" />
<line x1="384.20" y1="1596.10" x2="384.20" y2="1627.30" stroke="#000" stroke-width="1.2" />
<line x1="446.40" y1="1677.70" x2="446.40" y2="1718.50" stroke="#000" stroke-width="1.2" />
<line x1="458.60" y1="1704.70" x2="458.60" y2="1729.20" stroke="#000" stroke-width="1.2" />
<line x1="620.40" y1="1622.20" x2="620.40" y2="1639.20" stroke="#000" stroke-width="1.2" />
<line x1="665.90" y1="1556.80" x2="665.90" y2="1582.30" stroke="#000" stroke-width="1.2" />
<line x1="733.60" y1="1634.70" x2="733.60" y2="1654.20" stroke="#000" stroke-width="1.2" />
<line x1="761.30" y1="1655.90" x2="761.30" y2="1692.10" stroke="#000" stroke-width="1.2" />
<line x1="785.90" y1="1489.80" x2="785.90" y2="1500.00" stroke="#000" stroke-width="1.2" />
<line x1="820.90" y1="1651.60" x2="820.90" y2="1679.60" stroke="#000" stroke-width="1.2" />
<polyline points="162.90,1593.60 296.30,1664.90 384.20,1611.70 446.40,1697.00 458.60,1716.80 595.70,1649.40 620.40,1631.00 665.90,1569.50 733.60,1644.80 761.30,1673.40 785.90,1500.70 820.90,1665.80" fill="none" stroke="#000" stroke-width="1.7" stroke-linejoin="round"/>
<polygon points="127.30,1596.50 133.25,1608.30 121.35,1608.30" fill="#fff" stroke="#000" stroke-width="1.3" stroke-linejoin="miter"/>
<polygon points="162.90,1588.10 168.85,1599.90 156.95,1599.90" fill="#fff" stroke="#000" stroke-width="1.3" stroke-linejoin="miter"/>
<polygon points="296.30,1659.40 302.25,1671.20 290.35,1671.20" fill="#fff" stroke="#000" stroke-width="1.3" stroke-linejoin="miter"/>
<polygon points="384.20,1606.20 390.15,1618.00 378.25,1618.00" fill="#fff" stroke="#000" stroke-width="1.3" stroke-linejoin="miter"/>
<polygon points="446.40,1691.50 452.35,1703.30 440.45,1703.30" fill="#fff" stroke="#000" stroke-width="1.3" stroke-linejoin="miter"/>
<polygon points="458.60,1711.30 464.55,1723.10 452.65,1723.10" fill="#fff" stroke="#000" stroke-width="1.3" stroke-linejoin="miter"/>
<polygon points="595.70,1643.90 601.65,1655.70 589.75,1655.70" fill="#fff" stroke="#000" stroke-width="1.3" stroke-linejoin="miter"/>
<polygon points="620.40,1625.50 626.35,1637.30 614.45,1637.30" fill="#fff" stroke="#000" stroke-width="1.3" stroke-linejoin="miter"/>
<polygon points="665.90,1564.00 671.85,1575.80 659.95,1575.80" fill="#fff" stroke="#000" stroke-width="1.3" stroke-linejoin="miter"/>
<polygon points="733.60,1639.30 739.55,1651.10 727.65,1651.10" fill="#fff" stroke="#000" stroke-width="1.3" stroke-linejoin="miter"/>
<polygon points="761.30,1667.90 767.25,1679.70 755.35,1679.70" fill="#fff" stroke="#000" stroke-width="1.3" stroke-linejoin="miter"/>
<polygon points="785.90,1495.20 791.85,1507.00 779.95,1507.00" fill="#fff" stroke="#000" stroke-width="1.3" stroke-linejoin="miter"/>
<polygon points="820.90,1660.30 826.85,1672.10 814.95,1672.10" fill="#fff" stroke="#000" stroke-width="1.3" stroke-linejoin="miter"/>
</svg>
</body></html>
